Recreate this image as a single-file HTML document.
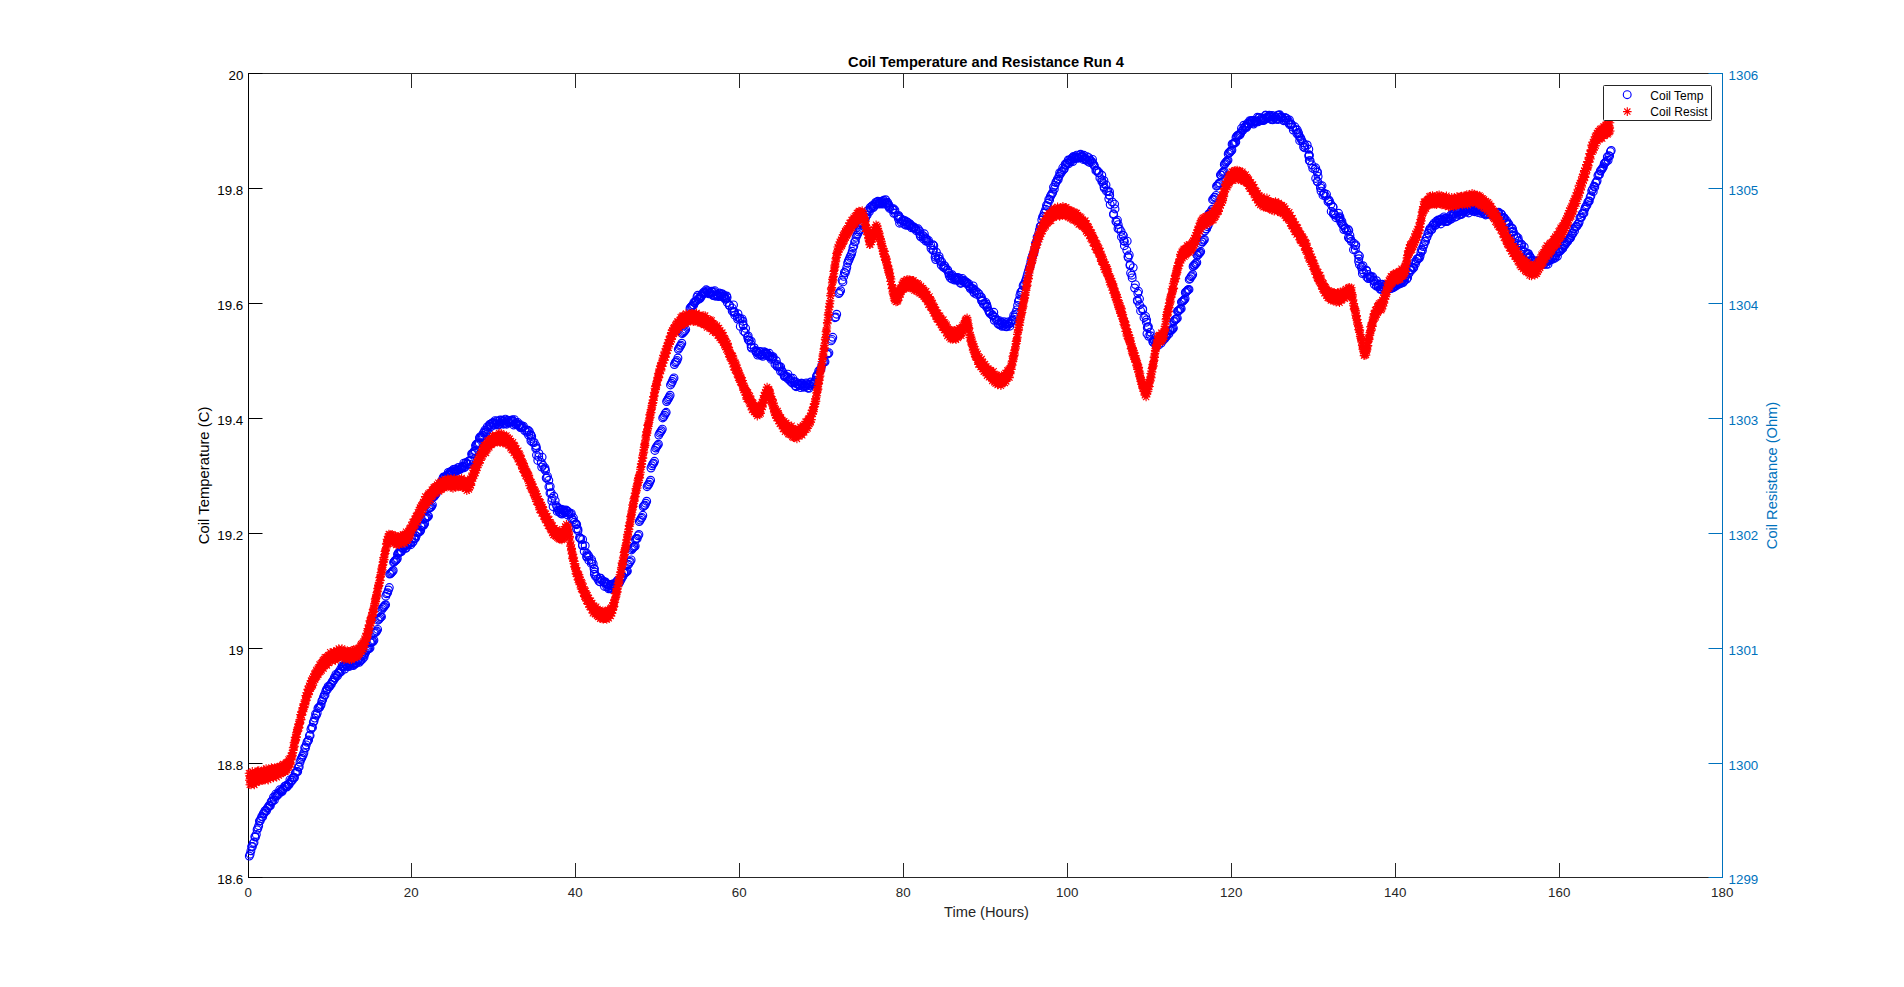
<!DOCTYPE html>
<html lang="en"><head><meta charset="utf-8"><title>Coil Temperature and Resistance Run 4</title>
<style>html,body{margin:0;padding:0;background:#fff;}body{width:1904px;height:987px;overflow:hidden;}svg{display:block;font-family:"Liberation Sans",sans-serif;}.t{font-size:13.33px;fill:#262626;}.tb{font-size:13.33px;fill:#0072BD;}.tk{font-size:13.33px;fill:#000;}.lk{font-size:14.67px;fill:#000;}.l{font-size:14.67px;fill:#262626;}.lb{font-size:14.67px;fill:#0072BD;}.ti{font-size:14.67px;font-weight:bold;fill:#000;}.lg{font-size:12px;fill:#000;}</style></head><body>
<svg width="1904" height="987" viewBox="0 0 1904 987">
<defs><marker id="mc" markerUnits="userSpaceOnUse" markerWidth="12" markerHeight="12" refX="6" refY="6" viewBox="0 0 12 12" overflow="visible"><circle cx="6" cy="6" r="3.9" fill="none" stroke="#0000ff" stroke-width="1.15"/></marker><marker id="ms" markerUnits="userSpaceOnUse" markerWidth="12" markerHeight="12" refX="6" refY="6" viewBox="0 0 12 12" overflow="visible"><path d="M1.7 6H10.3M6 1.7V10.3M2.9 2.9L9.1 9.1M9.1 2.9L2.9 9.1" fill="none" stroke="#ff0000" stroke-width="1.1"/></marker></defs>
<rect x="0" y="0" width="1904" height="987" fill="#ffffff"/>
<path d="M248 73.5H1723M248 877.5H1723M411.5 878V863M411.5 73V88M575.5 878V863M575.5 73V88M739.5 878V863M739.5 73V88M903.5 878V863M903.5 73V88M1067.5 878V863M1067.5 73V88M1231.5 878V863M1231.5 73V88M1395.5 878V863M1395.5 73V88M1559.5 878V863M1559.5 73V88" stroke="#262626" stroke-width="1" fill="none" shape-rendering="crispEdges"/>
<path d="M248.5 73V878M248 73.5H262.5M248 188.5H262.5M248 303.5H262.5M248 418.5H262.5M248 533.5H262.5M248 648.5H262.5M248 763.5H262.5M248 877.5H262.5" stroke="#000" stroke-width="1" fill="none"/>
<path d="M1722.5 73V878M1723 73.5H1708.5M1723 188.5H1708.5M1723 303.5H1708.5M1723 418.5H1708.5M1723 533.5H1708.5M1723 648.5H1708.5M1723 763.5H1708.5M1723 877.5H1708.5" stroke="#0072BD" stroke-width="1" fill="none"/>
<text class="t" x="248.2" y="897" text-anchor="middle">0</text>
<text class="t" x="411.2" y="897" text-anchor="middle">20</text>
<text class="t" x="575.2" y="897" text-anchor="middle">40</text>
<text class="t" x="739.2" y="897" text-anchor="middle">60</text>
<text class="t" x="903.2" y="897" text-anchor="middle">80</text>
<text class="t" x="1067.2" y="897" text-anchor="middle">100</text>
<text class="t" x="1231.2" y="897" text-anchor="middle">120</text>
<text class="t" x="1395.2" y="897" text-anchor="middle">140</text>
<text class="t" x="1559.2" y="897" text-anchor="middle">160</text>
<text class="t" x="1722.2" y="897" text-anchor="middle">180</text>
<text class="tk" x="243.3" y="80.0" text-anchor="end">20</text>
<text class="tb" x="1728.6" y="80.0">1306</text>
<text class="tk" x="243.3" y="195.0" text-anchor="end">19.8</text>
<text class="tb" x="1728.6" y="195.0">1305</text>
<text class="tk" x="243.3" y="310.0" text-anchor="end">19.6</text>
<text class="tb" x="1728.6" y="310.0">1304</text>
<text class="tk" x="243.3" y="425.0" text-anchor="end">19.4</text>
<text class="tb" x="1728.6" y="425.0">1303</text>
<text class="tk" x="243.3" y="540.0" text-anchor="end">19.2</text>
<text class="tb" x="1728.6" y="540.0">1302</text>
<text class="tk" x="243.3" y="655.0" text-anchor="end">19</text>
<text class="tb" x="1728.6" y="655.0">1301</text>
<text class="tk" x="243.3" y="770.0" text-anchor="end">18.8</text>
<text class="tb" x="1728.6" y="770.0">1300</text>
<text class="tk" x="243.3" y="884.0" text-anchor="end">18.6</text>
<text class="tb" x="1728.6" y="884.0">1299</text>
<text class="ti" x="986" y="67" text-anchor="middle">Coil Temperature and Resistance Run 4</text>
<text class="l" x="986.5" y="917" text-anchor="middle">Time (Hours)</text>
<text class="lk" style="font-size:14.85px" transform="translate(208.7 475.4) rotate(-90)" text-anchor="middle">Coil Temperature (C)</text>
<text class="lb" transform="translate(1777 475.5) rotate(-90)" text-anchor="middle">Coil Resistance (Ohm)</text>
<polyline fill="none" stroke="none" marker-start="url(#mc)" marker-mid="url(#mc)" marker-end="url(#mc)" points="249.3,856.1 250.1,854.2 250.9,850.8 251.6,846.6 252.4,846.5 253.2,843.4 254.0,842.4 254.8,836.7 255.5,837.1 256.3,834.4 257.1,829.7 257.9,828.1 258.7,825.7 259.4,821.1 260.2,820.8 261.0,818.6 261.8,816.5 262.6,816.9 263.3,813.6 264.1,813.3 264.9,811.0 265.7,810.4 266.5,810.8 267.2,808.3 268.0,807.6 268.8,805.9 269.6,805.5 270.4,805.6 271.1,802.0 271.9,801.0 272.7,801.1 273.5,797.2 274.3,800.2 275.0,796.6 275.8,794.1 276.6,796.0 277.4,795.0 278.2,793.4 278.9,793.9 279.7,789.8 280.5,791.2 281.3,791.1 282.1,791.6 282.8,789.7 283.6,788.6 284.4,786.6 285.2,786.4 286.0,785.6 286.7,787.0 287.5,786.1 288.3,784.3 289.1,784.5 289.9,779.9 290.6,782.2 291.4,780.4 292.2,780.4 293.0,777.7 293.8,777.6 294.5,777.5 295.3,773.1 296.1,772.2 296.9,771.4 297.7,771.5 298.4,767.1 299.2,766.8 300.0,762.3 300.8,759.6 301.6,758.2 302.3,756.5 303.1,754.9 303.9,752.7 304.7,747.7 305.5,748.1 306.2,744.9 307.0,742.2 307.8,741.0 308.6,740.1 309.4,735.6 310.1,735.6 310.9,729.3 311.7,727.3 312.5,727.4 313.3,722.3 314.0,721.0 314.8,718.1 315.6,713.9 316.4,715.1 317.2,713.1 317.9,708.4 318.7,707.5 319.5,707.5 320.3,706.1 321.1,704.5 321.8,701.2 322.6,699.8 323.4,697.3 324.2,695.2 325.0,694.9 325.7,691.3 326.5,689.5 327.3,689.5 328.1,686.4 328.9,686.8 329.6,686.5 330.4,684.6 331.2,684.4 332.0,682.2 332.8,680.9 333.5,680.4 334.3,677.7 335.1,678.0 335.9,674.4 336.7,675.3 337.4,675.9 338.2,673.4 339.0,671.7 339.8,672.6 340.6,669.2 341.3,671.3 342.1,666.0 342.9,667.0 343.5,666.1 344.2,666.1 344.8,669.1 345.5,664.2 346.1,665.0 346.8,665.2 347.4,666.2 348.1,666.5 348.7,664.5 349.4,663.0 350.0,666.2 350.7,661.9 351.3,661.8 352.0,662.2 352.6,663.4 353.3,665.6 353.9,664.6 354.6,663.2 355.2,662.4 355.9,663.7 356.5,662.7 357.2,661.1 357.8,659.4 358.5,659.8 359.3,662.3 360.1,660.3 360.8,660.5 361.6,655.2 362.4,659.2 363.2,655.8 364.0,657.2 364.7,654.3 365.5,652.5 366.3,650.8 367.0,649.8 367.8,649.4 368.5,648.6 369.2,648.6 370.0,647.9 370.2,642.4 370.9,642.7 371.7,641.9 372.4,641.1 373.1,641.5 373.9,640.2 374.1,633.4 375.0,632.7 375.9,631.9 376.7,631.0 377.6,629.4 378.0,620.2 378.9,619.3 379.8,618.2 380.6,617.0 381.5,616.7 381.9,609.4 382.6,607.9 383.4,607.3 384.1,606.5 384.8,605.4 385.6,604.7 385.8,596.2 386.7,593.8 387.6,592.7 388.4,590.0 389.3,587.6 389.7,574.0 390.6,573.6 391.5,572.6 392.3,571.5 393.2,570.5 393.6,562.4 394.3,561.7 395.1,560.5 395.8,560.4 396.5,559.6 397.3,558.6 397.5,554.4 398.2,553.1 399.0,552.5 399.7,552.4 400.4,551.7 401.2,551.2 401.4,551.6 402.0,547.4 402.7,547.8 403.3,548.6 404.0,546.3 404.6,545.3 405.3,548.3 406.1,548.0 406.9,545.3 407.6,544.8 408.4,542.6 409.2,543.7 410.0,543.4 410.8,544.7 411.5,538.7 412.3,542.6 413.1,541.7 413.9,538.4 414.7,538.7 415.4,538.2 416.2,536.0 417.0,532.6 417.7,532.6 418.5,532.2 419.2,531.2 419.9,531.7 420.7,530.3 420.9,526.6 421.6,526.5 422.4,525.9 423.1,525.3 423.8,525.1 424.6,523.7 424.8,518.8 425.5,518.2 426.3,517.5 427.0,517.5 427.7,516.3 428.5,516.1 428.7,508.7 429.4,507.9 430.2,507.5 430.9,507.2 431.6,506.2 432.4,504.8 432.6,497.7 433.3,496.5 434.1,496.7 434.8,495.2 435.5,494.3 436.3,493.5 436.5,488.0 437.2,487.4 438.0,487.2 438.7,486.1 439.4,485.9 440.2,485.1 440.4,484.2 441.2,482.9 442.0,481.2 442.7,478.7 443.5,477.0 444.3,477.2 445.1,478.8 445.9,476.6 446.6,476.1 447.4,474.7 448.2,472.5 448.8,475.3 449.5,474.0 450.1,472.3 450.8,471.5 451.4,473.3 452.1,471.1 452.7,472.4 453.4,469.5 454.0,472.4 454.7,469.3 455.3,469.6 456.0,471.4 456.6,471.0 457.3,470.1 457.9,467.6 458.6,469.7 459.2,467.4 459.9,469.3 460.5,469.1 461.2,468.1 461.8,467.9 462.5,466.2 463.1,467.1 463.8,463.1 464.4,467.7 465.1,466.7 465.7,462.6 466.4,462.8 467.0,464.0 467.7,464.4 468.5,461.2 469.3,464.1 470.0,460.2 470.8,461.0 471.6,454.0 472.3,454.1 473.1,453.3 473.8,451.9 474.5,450.8 475.3,450.8 475.5,445.6 476.2,444.5 477.0,443.8 477.7,443.8 478.4,443.2 479.2,442.7 479.4,438.0 480.1,436.8 480.9,437.5 481.6,436.7 482.3,435.9 483.1,435.2 483.3,433.1 484.1,432.3 484.9,430.2 485.6,432.5 486.4,431.8 487.2,426.9 488.0,429.6 488.8,426.1 489.5,424.6 490.3,424.2 491.1,426.5 491.7,423.4 492.4,423.1 493.0,422.5 493.7,423.1 494.3,425.0 495.0,420.6 495.6,423.4 496.3,423.9 496.9,420.9 497.6,421.6 498.2,425.0 498.9,424.6 499.5,424.1 500.2,420.0 500.8,423.3 501.5,421.7 502.1,420.2 502.8,421.2 503.4,424.2 504.1,423.4 504.7,420.6 505.4,419.1 506.0,423.3 506.7,424.2 507.3,421.8 508.0,420.2 508.6,422.2 509.3,422.8 509.9,421.8 510.6,420.8 511.2,420.8 511.9,420.9 512.5,419.8 513.2,421.1 513.8,425.1 514.5,419.6 515.1,423.6 515.8,424.5 516.4,422.8 517.1,424.0 517.7,422.4 518.4,425.2 519.0,425.5 519.7,425.8 520.3,424.6 520.4,427.6 521.4,427.6 522.4,426.7 522.4,427.8 523.4,426.2 524.6,430.5 526.4,430.0 526.9,432.3 528.0,430.2 528.6,435.2 529.3,431.5 530.6,435.0 530.8,434.6 531.7,436.4 530.9,440.8 531.1,438.4 534.2,442.5 532.7,442.3 536.5,447.8 535.9,445.6 535.7,448.4 538.9,453.5 536.5,455.1 538.7,456.9 537.8,460.4 542.1,457.1 541.3,462.5 543.0,465.3 541.7,467.1 544.6,469.0 545.0,467.9 545.5,470.5 547.5,476.4 546.2,478.0 546.9,477.9 548.8,480.3 550.2,486.5 548.9,486.8 551.1,492.7 550.0,493.1 552.1,498.3 553.8,496.2 551.8,501.0 555.2,500.6 553.1,506.6 557.6,507.3 556.5,505.8 557.2,511.4 558.3,510.1 558.7,508.4 559.3,511.8 560.0,509.7 560.6,513.3 561.3,509.3 561.9,514.0 562.6,509.6 563.2,513.0 563.9,510.8 564.5,511.6 565.2,512.5 565.8,510.0 566.5,511.1 567.1,510.8 567.8,515.0 568.4,511.9 569.0,513.7 570.4,513.8 571.3,513.4 571.6,518.5 573.4,517.8 572.9,520.0 574.3,522.3 575.8,524.2 576.1,523.7 576.7,524.7 576.5,528.8 577.9,529.1 578.0,530.8 580.2,537.8 579.5,537.7 580.7,539.0 582.6,539.5 582.4,544.7 582.5,545.8 585.2,545.7 584.2,551.3 586.9,553.3 587.4,554.7 586.8,556.3 588.7,556.0 586.7,557.0 588.9,560.4 591.6,559.6 591.3,563.4 592.0,561.6 593.2,563.9 594.0,568.7 594.4,568.8 594.5,572.0 594.4,574.2 595.6,576.4 596.5,576.2 597.8,579.0 600.0,578.2 599.1,581.4 600.2,581.9 600.8,578.3 602.0,580.4 603.6,582.0 604.1,582.4 604.0,581.6 604.5,586.4 605.5,582.0 606.1,583.8 606.8,586.7 607.4,584.3 608.1,584.4 608.7,588.8 609.4,588.0 610.0,586.0 610.7,584.6 611.3,584.9 612.0,589.3 612.6,588.4 613.3,583.8 613.9,587.5 614.6,584.3 615.2,585.7 615.9,583.0 616.7,581.6 617.5,580.3 618.2,580.9 619.0,583.1 619.8,582.0 620.6,580.0 621.4,579.1 622.1,575.9 622.9,576.4 623.7,572.9 624.4,573.2 625.2,572.8 625.9,572.3 626.6,571.4 627.4,571.1 627.6,564.8 628.5,564.4 629.4,562.4 630.2,561.6 631.1,559.9 631.5,549.9 632.2,548.7 633.0,547.8 633.7,546.7 634.4,546.7 635.2,546.0 635.4,539.3 636.3,538.6 637.2,538.5 638.0,535.8 638.9,534.5 639.3,521.5 640.2,520.1 641.1,518.3 641.9,517.4 642.8,515.3 643.2,506.6 644.1,505.7 645.0,505.1 645.8,503.2 646.7,501.2 647.1,486.7 648.0,485.0 648.9,484.1 649.7,482.0 650.6,480.2 651.0,468.0 651.9,465.8 652.8,463.9 653.6,463.2 654.5,461.3 654.9,450.4 655.8,448.0 656.7,446.7 657.5,445.4 658.4,444.2 658.8,435.1 659.7,433.2 660.6,431.9 661.4,430.7 662.3,429.1 662.7,417.9 663.6,416.8 664.5,415.2 665.3,413.3 666.2,412.3 666.6,401.5 667.5,400.0 668.4,398.5 669.2,397.0 670.1,395.2 670.5,384.9 671.4,383.2 672.3,381.5 673.1,379.3 674.0,377.9 674.4,364.5 675.3,362.5 676.2,361.7 677.0,360.4 677.9,358.0 678.3,349.3 679.2,347.9 680.1,346.2 680.9,345.1 681.8,343.2 682.2,333.6 683.1,332.7 684.0,331.7 684.8,330.7 685.7,329.4 686.1,321.7 687.0,320.4 687.9,320.3 688.7,318.8 689.6,317.8 690.0,308.2 690.7,307.5 691.5,306.4 692.2,306.0 692.9,304.9 693.7,305.1 693.9,302.3 694.7,302.7 695.5,301.1 696.2,300.9 697.0,297.0 697.8,295.2 698.4,298.9 699.1,299.2 699.7,297.2 700.4,298.0 701.0,296.4 701.7,295.8 702.3,294.2 703.0,292.8 703.6,293.6 704.3,291.8 704.9,292.8 705.6,292.7 706.2,289.8 706.9,291.7 707.5,290.7 708.2,293.1 708.8,293.9 709.5,293.3 710.1,293.2 710.8,293.2 711.4,291.2 712.1,292.0 712.7,295.2 713.4,295.5 714.0,291.8 714.7,290.6 715.3,296.2 716.0,295.3 716.6,294.4 717.3,295.7 717.9,294.9 718.6,296.6 719.2,293.0 719.9,294.6 720.5,295.8 721.2,293.6 721.8,296.5 722.5,294.0 723.1,296.6 723.8,297.5 724.4,295.5 725.1,299.1 725.2,297.8 726.0,299.2 726.7,296.0 727.1,297.5 727.3,302.5 729.6,305.3 729.4,305.5 732.2,308.1 733.5,304.9 732.2,311.0 733.9,311.8 734.5,311.8 733.9,312.5 734.8,315.2 738.0,313.7 737.5,317.1 739.4,318.2 737.6,319.1 740.3,318.8 742.1,318.9 742.9,321.2 740.3,326.4 743.1,324.5 743.3,325.5 745.6,328.4 743.7,331.2 745.2,332.6 748.2,336.0 747.6,337.3 748.3,339.7 751.2,341.2 749.3,340.5 749.0,340.4 751.2,346.9 751.0,344.5 751.5,348.1 754.2,347.7 756.1,352.2 755.7,350.5 756.3,351.5 756.9,351.5 757.6,355.1 758.2,353.5 758.9,353.7 759.5,351.9 760.2,351.4 760.8,355.3 761.5,354.6 762.1,354.8 762.8,356.3 763.4,353.8 764.1,351.7 764.7,354.0 765.4,352.4 766.0,353.3 766.7,353.5 767.3,354.1 768.0,355.8 768.6,356.2 769.3,353.3 770.0,355.9 769.8,357.0 772.0,356.6 773.1,356.6 771.4,359.4 772.6,358.7 773.1,358.2 776.3,360.7 777.3,364.4 775.0,364.2 776.8,365.8 777.3,366.6 778.8,366.1 780.7,367.0 779.5,367.1 780.5,371.3 782.0,370.9 782.9,372.3 784.1,375.5 784.3,374.7 784.5,376.5 785.7,376.4 787.6,378.5 787.9,374.1 787.6,376.8 789.6,380.3 789.5,378.9 791.1,381.9 790.6,378.1 792.8,378.3 792.4,383.1 793.7,381.6 794.8,382.9 795.3,385.8 795.5,381.7 796.1,386.7 797.2,384.2 797.9,383.7 798.5,384.2 799.2,385.2 799.8,385.6 800.5,387.6 801.1,383.3 801.8,383.3 802.4,384.0 803.1,386.1 803.7,387.2 804.4,385.2 805.0,385.8 805.7,386.5 806.3,382.9 807.0,383.7 807.6,387.9 808.3,384.5 808.9,388.3 809.6,385.6 810.2,384.1 810.9,382.0 811.7,383.6 812.5,384.2 813.2,384.0 814.0,382.9 814.8,381.7 815.6,380.3 816.4,376.5 817.1,375.0 817.9,375.5 818.7,370.9 819.5,371.3 820.3,369.3 821.0,369.1 821.8,365.3 823.2,362.3 824.1,361.7 825.0,361.8 827.1,354.2 828.0,353.9 828.9,352.8 831.0,340.9 831.9,339.4 832.8,337.3 834.9,317.7 835.8,317.0 836.7,314.2 838.8,293.5 839.7,292.4 840.6,290.7 842.1,280.2 842.9,281.9 843.7,276.4 844.4,272.4 845.2,272.9 846.0,270.6 846.8,267.4 847.6,263.1 848.3,261.1 849.1,259.5 849.9,257.4 850.7,255.6 851.5,254.1 852.2,251.3 853.0,247.4 853.8,245.9 854.6,241.9 855.4,241.4 856.1,237.3 856.9,235.2 857.7,233.8 858.5,231.9 859.3,230.0 860.0,229.9 860.8,225.3 861.6,223.8 862.4,224.3 863.2,222.4 863.9,220.9 864.7,219.4 865.5,217.9 866.3,215.2 867.1,215.2 867.8,210.8 868.6,210.0 869.4,211.6 870.2,207.5 871.0,208.7 871.7,206.5 872.5,205.5 873.3,207.5 874.1,206.3 874.9,204.0 875.6,202.5 876.4,204.4 877.2,202.6 877.8,201.2 878.5,203.8 879.1,202.8 879.8,203.9 880.4,202.3 881.1,203.8 881.7,201.3 882.4,202.7 883.0,204.1 883.7,200.3 884.3,201.8 885.0,203.2 885.6,199.7 886.3,203.7 886.9,203.1 887.6,205.4 887.6,202.3 888.3,204.2 889.2,207.0 889.1,205.4 889.6,208.4 893.5,208.6 892.6,208.9 892.7,210.0 894.9,210.1 893.8,213.3 895.2,212.9 898.0,217.1 898.5,219.1 898.6,215.5 898.0,216.4 899.4,216.8 899.6,223.2 900.7,218.6 901.2,222.3 902.1,220.8 903.2,219.9 903.8,221.1 904.5,224.3 905.1,220.7 905.8,225.2 906.4,224.2 907.1,221.9 907.7,222.5 908.4,225.4 909.0,225.5 909.7,223.6 910.3,224.5 911.0,225.7 911.6,227.8 912.3,226.5 913.4,227.8 913.8,227.0 914.3,227.8 914.1,227.8 916.2,229.4 915.5,228.7 916.3,230.7 918.1,228.8 919.2,230.6 919.9,233.8 920.0,231.6 920.2,235.7 920.7,236.8 923.2,235.7 924.3,233.8 923.4,238.9 925.6,238.6 925.3,237.7 925.9,241.0 927.1,240.4 926.6,239.1 928.5,240.4 928.6,242.4 930.8,245.3 931.0,248.3 932.9,244.7 933.8,245.7 932.8,250.4 933.4,250.1 936.4,252.2 935.7,255.6 935.1,257.2 935.7,259.5 939.7,259.3 939.1,256.4 938.2,258.1 940.4,261.5 941.2,265.1 941.7,261.8 944.2,265.4 945.0,266.4 943.1,266.8 944.0,267.6 945.6,268.5 947.4,270.3 947.7,269.9 948.6,273.1 949.1,273.1 949.2,275.8 951.1,275.7 950.5,278.2 952.3,274.8 952.2,279.1 953.2,276.7 954.5,278.7 954.6,280.1 955.2,277.8 955.8,278.4 956.5,280.0 957.1,277.4 957.8,279.7 958.4,277.7 959.1,278.4 959.7,281.1 960.4,283.2 961.0,283.2 961.7,279.9 962.3,278.4 963.0,281.0 963.6,281.3 964.3,280.5 964.9,282.4 965.6,283.2 966.2,282.4 966.9,282.4 967.4,283.3 968.9,283.9 968.9,285.9 970.3,287.3 972.0,288.4 970.3,288.6 973.2,285.9 973.3,288.7 973.6,291.9 974.3,290.3 974.4,293.2 975.6,290.8 977.4,292.4 976.8,294.4 979.0,294.0 980.6,297.4 981.4,297.2 982.0,301.2 982.5,299.8 981.6,300.5 984.5,304.5 983.3,303.8 985.8,302.4 986.7,304.3 986.7,307.3 987.2,306.3 987.1,307.2 988.8,310.6 989.0,311.3 989.3,312.0 990.1,313.6 992.6,314.8 993.8,312.3 992.4,315.3 992.8,315.8 994.3,320.3 994.8,317.2 995.8,319.4 997.5,320.3 998.0,323.7 998.7,324.3 999.4,320.6 1000.0,324.9 1000.7,324.2 1001.3,322.3 1002.0,326.3 1002.6,323.0 1003.3,325.8 1003.9,321.8 1004.6,324.2 1005.2,324.0 1005.9,326.6 1006.5,326.8 1007.2,325.2 1007.8,322.0 1008.5,324.0 1009.1,323.9 1009.8,326.2 1010.6,323.0 1011.4,321.1 1012.1,319.8 1012.9,320.2 1013.7,315.4 1014.5,317.1 1015.3,314.5 1016.0,312.1 1016.8,309.9 1017.6,305.5 1018.4,301.3 1019.2,299.7 1019.9,295.3 1020.7,292.3 1021.5,291.7 1022.3,290.4 1023.1,285.8 1023.8,284.5 1024.6,284.0 1025.4,281.2 1026.2,279.0 1027.0,276.1 1027.7,273.4 1028.5,270.6 1029.3,268.0 1030.1,265.5 1030.9,261.6 1031.6,258.5 1032.4,255.9 1033.2,254.2 1034.0,252.8 1034.8,248.4 1035.5,243.3 1036.3,243.0 1037.1,237.1 1037.9,237.3 1038.7,233.3 1039.4,229.8 1040.2,226.5 1041.0,226.0 1041.8,220.0 1042.6,216.9 1043.3,216.4 1044.1,213.3 1044.9,211.6 1045.7,209.3 1046.5,205.4 1047.2,206.4 1048.0,203.2 1048.8,199.3 1049.6,199.9 1050.4,196.4 1051.1,195.1 1051.9,193.8 1052.7,192.5 1053.5,187.1 1054.3,189.1 1055.0,185.1 1055.8,182.5 1056.6,181.3 1057.4,179.1 1058.2,179.6 1058.9,176.5 1059.7,172.6 1060.5,173.8 1061.3,172.1 1062.1,171.3 1062.8,167.8 1063.6,169.7 1064.4,168.6 1065.2,164.2 1066.0,165.0 1066.7,162.9 1067.5,163.1 1068.3,160.0 1068.9,163.7 1069.6,160.0 1070.2,161.9 1070.9,160.9 1071.5,158.9 1072.2,157.8 1072.8,161.5 1073.5,156.5 1074.1,157.9 1074.8,156.7 1075.4,158.7 1076.1,157.1 1076.7,155.1 1077.4,157.5 1078.0,158.0 1078.7,157.9 1079.3,156.9 1080.0,155.0 1080.6,154.2 1081.3,156.5 1081.9,157.5 1082.6,156.3 1083.2,159.4 1083.9,155.3 1084.5,158.9 1085.2,158.3 1085.8,159.3 1086.5,160.2 1087.1,156.8 1087.8,161.3 1088.8,157.6 1089.3,160.1 1089.5,162.4 1089.8,160.2 1091.0,160.9 1092.5,159.4 1092.8,163.1 1091.7,161.7 1093.8,164.6 1094.4,166.0 1095.9,170.7 1096.7,170.4 1099.0,172.4 1097.3,170.6 1098.4,172.9 1099.9,177.9 1101.8,175.2 1101.9,181.7 1101.7,179.8 1103.9,180.5 1103.3,183.5 1106.0,184.9 1104.1,186.8 1104.2,188.1 1107.8,191.1 1106.5,191.2 1109.5,191.7 1109.3,195.4 1109.7,195.2 1108.8,198.8 1112.3,202.0 1110.2,204.6 1114.6,204.1 1115.0,208.9 1113.5,213.8 1113.6,214.7 1117.4,220.1 1116.6,222.0 1115.9,221.4 1118.2,224.6 1118.0,228.5 1119.4,228.7 1121.1,231.4 1123.0,235.3 1123.3,235.6 1121.5,236.9 1123.6,240.7 1124.4,241.4 1127.2,241.1 1124.4,245.7 1126.8,250.3 1129.2,254.9 1128.0,256.4 1128.2,257.6 1130.1,264.6 1130.0,265.5 1133.2,267.6 1130.6,273.1 1131.9,275.2 1132.2,277.9 1135.4,284.6 1134.6,288.0 1137.8,293.3 1138.5,291.3 1139.5,298.8 1137.5,301.2 1137.3,300.1 1139.6,304.8 1142.7,308.8 1142.7,309.8 1140.6,310.9 1144.0,317.7 1145.6,316.4 1146.6,319.8 1146.4,322.2 1147.8,326.9 1148.4,326.7 1147.3,327.7 1147.0,333.7 1150.3,332.1 1148.7,336.3 1150.5,335.7 1153.5,339.9 1152.7,341.5 1153.4,342.6 1154.8,341.5 1154.4,340.4 1156.0,342.6 1156.0,344.7 1156.7,342.0 1157.3,340.2 1158.0,342.2 1158.6,345.2 1159.3,339.8 1159.9,340.1 1160.6,339.6 1161.2,343.0 1161.9,339.5 1162.7,340.5 1163.5,339.9 1164.2,337.7 1165.0,338.3 1165.8,336.4 1166.6,336.3 1167.4,334.3 1168.1,330.8 1168.9,333.8 1169.7,330.5 1170.4,330.3 1171.2,330.4 1171.9,329.7 1172.6,328.7 1173.4,328.1 1173.6,321.5 1174.3,320.9 1175.1,319.6 1175.8,319.3 1176.5,318.8 1177.3,318.2 1177.5,311.2 1178.2,311.1 1179.0,310.5 1179.7,309.3 1180.4,309.1 1181.2,308.7 1181.4,302.1 1182.1,301.6 1182.9,301.0 1183.6,300.4 1184.3,299.7 1185.1,298.6 1185.3,292.5 1186.0,292.1 1186.8,291.2 1187.5,290.3 1188.2,289.7 1189.0,289.4 1189.2,279.4 1190.1,278.6 1191.0,276.7 1191.8,275.8 1192.7,274.5 1193.1,266.5 1193.8,265.3 1194.6,265.3 1195.3,263.8 1196.0,263.6 1196.8,262.4 1197.0,255.2 1197.7,255.2 1198.5,254.3 1199.2,253.0 1199.9,252.5 1200.7,251.6 1200.9,243.7 1201.8,241.9 1202.7,241.8 1203.5,240.3 1204.4,239.5 1204.8,231.0 1205.7,228.9 1206.6,228.9 1207.4,226.7 1208.3,224.9 1208.7,213.9 1209.6,213.7 1210.5,212.3 1211.3,210.9 1212.2,209.2 1212.6,199.7 1213.5,199.2 1214.4,197.5 1215.2,197.1 1216.1,195.4 1216.5,186.2 1217.4,185.6 1218.3,184.3 1219.1,183.2 1220.0,182.9 1220.4,174.8 1221.1,175.0 1221.9,173.4 1222.6,172.3 1223.3,172.2 1224.1,171.3 1224.3,164.5 1225.0,163.5 1225.8,162.3 1226.5,161.7 1227.2,160.8 1228.0,160.1 1228.2,153.9 1228.9,152.6 1229.7,152.5 1230.4,151.2 1231.1,150.9 1231.9,150.1 1232.1,144.2 1232.8,143.7 1233.6,143.6 1234.3,143.3 1235.0,142.4 1235.8,142.1 1236.0,137.5 1236.7,136.4 1237.5,135.5 1238.2,135.1 1238.9,135.2 1239.7,133.9 1239.9,134.9 1240.7,133.2 1241.5,128.4 1242.2,130.6 1243.0,130.1 1243.8,125.2 1244.5,127.5 1245.1,126.3 1245.8,126.8 1246.4,127.6 1247.1,126.3 1247.7,123.2 1248.4,124.1 1249.0,124.0 1249.7,120.6 1250.3,121.1 1251.0,122.0 1251.6,120.6 1252.3,120.5 1252.9,123.0 1253.6,124.1 1254.2,120.5 1254.9,121.8 1255.5,121.8 1256.2,121.9 1256.8,120.9 1257.5,117.2 1258.1,121.8 1258.8,117.7 1259.4,117.7 1260.1,119.8 1260.7,119.6 1261.4,120.5 1262.0,117.9 1262.7,120.6 1263.3,119.6 1264.0,120.3 1264.6,118.2 1265.3,115.3 1265.9,115.3 1266.6,118.5 1267.2,116.9 1267.9,117.7 1268.5,116.5 1269.2,115.3 1269.8,117.0 1270.5,115.9 1271.1,119.4 1271.8,115.4 1272.4,119.8 1273.1,119.3 1273.7,115.9 1274.4,118.3 1275.0,117.1 1275.7,116.9 1276.3,119.2 1277.0,119.1 1277.6,115.3 1278.3,119.4 1278.9,115.2 1279.6,114.7 1280.2,117.5 1280.9,116.8 1281.5,116.9 1282.2,118.1 1282.8,118.1 1283.5,120.7 1284.1,120.4 1284.8,117.7 1285.4,117.8 1285.9,120.5 1286.6,118.4 1288.1,120.2 1288.6,123.1 1289.4,119.9 1290.8,124.3 1290.0,124.9 1291.4,124.6 1291.2,124.0 1292.7,127.1 1294.9,126.8 1293.3,130.1 1296.1,130.1 1297.2,129.8 1296.9,133.5 1298.6,133.6 1298.2,132.4 1298.7,135.6 1300.0,136.9 1299.7,140.7 1300.9,138.5 1301.6,140.3 1304.9,145.5 1303.2,142.8 1303.6,147.0 1307.2,145.0 1304.8,147.8 1308.8,149.2 1309.2,155.1 1309.1,154.8 1309.0,155.4 1308.9,156.4 1309.3,160.6 1310.1,160.7 1311.8,164.8 1312.8,168.4 1315.7,167.8 1314.9,169.2 1317.5,172.0 1317.2,172.3 1315.7,178.4 1318.1,176.4 1317.3,181.3 1317.6,181.9 1322.0,185.6 1320.4,187.8 1320.6,185.8 1321.0,191.1 1324.0,193.8 1324.0,193.2 1323.0,195.2 1326.5,194.3 1325.5,196.1 1328.3,199.9 1328.0,201.5 1329.0,200.1 1329.4,201.1 1331.0,204.3 1333.0,206.8 1333.0,207.2 1331.2,211.4 1333.5,212.7 1333.5,214.2 1333.9,214.0 1335.0,215.1 1335.9,217.7 1338.6,213.3 1338.8,217.7 1339.9,216.7 1340.3,220.3 1340.0,218.5 1341.0,222.4 1341.9,221.3 1342.2,224.4 1343.4,225.7 1345.3,228.0 1343.8,229.5 1345.2,228.5 1346.7,230.6 1348.2,229.5 1348.8,230.6 1349.9,235.3 1348.4,237.6 1349.4,238.7 1350.7,239.1 1351.3,241.3 1354.0,243.3 1355.8,244.9 1355.3,245.7 1353.5,249.7 1355.3,249.4 1358.1,254.8 1359.4,255.9 1358.8,258.7 1358.6,261.4 1359.4,264.5 1361.3,266.9 1363.0,265.7 1361.8,266.8 1362.1,269.7 1362.4,273.5 1363.7,272.5 1366.4,270.2 1366.6,271.0 1368.2,274.5 1366.9,277.2 1368.3,278.5 1370.0,276.5 1370.5,277.5 1370.1,278.6 1371.5,276.8 1372.7,276.8 1373.6,280.3 1374.0,281.4 1374.2,284.3 1376.6,280.7 1376.3,286.1 1377.6,283.7 1378.0,285.3 1378.1,286.8 1379.5,284.3 1380.3,289.3 1381.0,289.0 1381.6,288.9 1382.3,284.2 1382.9,287.0 1383.6,287.8 1384.2,289.3 1384.9,285.4 1385.5,285.2 1386.2,288.8 1386.8,285.9 1387.5,284.7 1388.1,284.5 1388.8,287.7 1389.4,287.0 1390.1,288.4 1390.7,288.6 1391.4,283.6 1392.0,288.0 1392.7,287.4 1393.3,287.6 1394.0,286.8 1394.6,284.2 1395.3,283.0 1395.9,286.1 1396.6,283.7 1397.2,283.6 1397.9,284.3 1398.5,284.0 1399.2,284.1 1399.8,282.9 1400.5,282.5 1401.1,283.4 1401.8,280.6 1402.4,279.7 1403.1,282.5 1403.7,281.4 1404.5,280.3 1405.3,276.5 1406.0,275.5 1406.8,279.1 1407.6,277.7 1408.4,273.9 1409.2,272.9 1409.9,270.2 1410.7,269.7 1411.5,270.2 1412.3,267.2 1413.1,268.0 1413.8,267.5 1414.6,262.3 1415.4,263.9 1416.2,261.4 1417.0,258.9 1417.7,259.1 1418.5,258.2 1419.3,258.2 1420.1,256.1 1420.9,252.5 1421.6,249.5 1422.4,250.5 1423.2,246.6 1424.0,244.6 1424.8,241.4 1425.5,241.4 1426.3,238.1 1427.1,236.8 1427.9,233.2 1428.7,233.3 1429.4,229.7 1430.2,228.1 1431.0,229.4 1431.8,229.5 1432.6,225.4 1433.3,224.7 1434.1,223.1 1434.9,225.4 1435.6,225.0 1436.2,221.3 1436.9,223.2 1437.5,222.3 1438.2,220.0 1438.8,221.9 1439.5,220.1 1440.1,219.7 1440.8,223.9 1441.4,218.8 1442.1,219.6 1442.7,221.0 1443.4,220.3 1444.0,216.9 1444.7,221.7 1445.3,218.3 1446.0,218.8 1446.6,221.4 1447.3,221.3 1447.9,220.9 1448.6,218.0 1449.2,219.0 1449.9,219.4 1450.5,215.4 1451.2,219.1 1451.8,214.1 1452.5,216.4 1453.1,214.3 1453.8,214.1 1454.4,213.3 1455.1,217.2 1455.7,211.8 1456.4,216.4 1457.0,211.5 1457.7,212.3 1458.3,212.0 1459.0,215.2 1459.6,210.7 1460.3,214.5 1460.9,211.2 1461.6,214.3 1462.2,213.4 1462.9,210.4 1463.5,212.0 1464.2,210.0 1464.8,210.4 1465.5,208.5 1466.1,211.9 1466.8,211.1 1467.4,209.2 1468.1,208.1 1468.7,212.9 1469.4,208.0 1470.0,209.4 1470.7,208.0 1471.3,209.4 1472.0,209.6 1472.6,211.1 1473.3,209.9 1473.9,208.6 1474.6,211.7 1475.2,209.5 1475.9,209.4 1476.5,210.7 1477.2,209.5 1477.8,212.4 1478.5,208.1 1479.1,209.6 1479.8,210.5 1480.4,210.4 1481.1,213.3 1481.7,210.3 1482.4,211.4 1483.0,211.8 1483.7,213.6 1484.3,210.3 1485.0,213.9 1485.6,214.9 1486.3,210.9 1486.9,210.6 1487.6,213.8 1488.2,211.2 1488.9,210.7 1489.5,210.3 1490.2,213.1 1490.8,214.9 1491.5,215.1 1492.1,213.5 1492.8,212.9 1493.4,215.2 1494.1,214.3 1494.7,215.7 1495.4,214.4 1496.0,214.6 1496.7,215.5 1497.3,212.5 1498.0,213.0 1498.6,212.2 1499.3,217.5 1499.9,218.0 1500.6,216.9 1500.9,214.0 1501.6,214.3 1502.3,217.2 1504.2,217.8 1503.4,217.6 1504.3,218.2 1506.0,222.6 1506.1,223.8 1506.7,220.8 1507.9,222.9 1509.0,224.5 1510.3,227.1 1512.0,228.2 1512.5,228.8 1511.9,232.2 1512.7,231.4 1513.4,231.9 1513.6,235.3 1516.8,237.2 1514.6,238.4 1515.8,235.9 1518.1,237.9 1518.7,240.8 1518.4,245.2 1521.4,244.1 1520.4,245.4 1521.8,244.8 1521.0,250.3 1524.2,247.0 1522.7,249.9 1524.3,252.0 1526.4,253.7 1527.3,254.1 1528.0,253.6 1528.5,253.7 1527.9,258.3 1528.3,256.9 1530.0,256.8 1530.1,256.7 1532.4,261.0 1531.6,261.0 1532.8,260.2 1533.2,260.2 1533.7,261.5 1535.0,263.8 1535.7,261.7 1536.3,264.2 1537.0,264.7 1537.6,263.9 1538.3,262.4 1538.9,260.5 1539.6,263.3 1540.2,264.4 1540.9,264.7 1541.5,260.9 1542.2,260.2 1542.8,262.9 1543.5,264.6 1544.1,260.1 1544.8,263.2 1545.4,261.0 1546.1,264.4 1546.7,261.8 1547.4,259.7 1548.0,264.2 1548.7,260.5 1549.3,260.7 1550.0,259.3 1550.6,259.9 1551.3,258.1 1551.9,257.7 1552.7,259.2 1553.5,256.2 1554.2,257.7 1555.0,258.2 1555.8,255.8 1556.6,252.5 1557.4,256.3 1558.1,251.7 1558.9,251.7 1559.7,251.1 1560.5,250.7 1561.3,248.9 1562.0,248.3 1562.8,248.4 1563.6,246.0 1564.4,245.1 1565.2,244.5 1565.9,243.0 1566.7,241.2 1567.5,241.7 1568.3,240.0 1569.1,238.7 1569.8,238.4 1570.6,237.8 1571.4,235.5 1572.2,233.4 1573.0,233.3 1573.7,229.0 1574.5,230.9 1575.3,227.3 1576.1,226.5 1576.9,226.2 1577.6,224.4 1578.4,223.9 1579.2,222.1 1580.0,217.7 1580.8,217.6 1581.5,217.1 1582.3,213.6 1583.1,213.2 1583.9,213.2 1584.7,209.2 1585.4,207.1 1586.2,206.2 1587.0,204.9 1587.8,202.1 1588.6,201.3 1589.3,201.0 1590.1,197.4 1590.9,195.7 1591.7,190.8 1592.5,189.4 1593.2,191.7 1594.0,186.2 1594.8,187.0 1595.6,182.8 1596.4,182.2 1597.1,180.7 1597.9,175.6 1598.7,174.4 1599.5,174.5 1600.3,171.0 1601.0,170.6 1601.8,169.2 1602.6,168.0 1603.4,166.8 1604.2,163.7 1604.9,163.0 1605.7,162.1 1606.5,161.1 1607.3,157.0 1608.1,160.3 1608.8,155.6 1609.6,156.1 1610.4,151.6 1611.2,150.5"/>
<polyline fill="none" stroke="none" marker-start="url(#ms)" marker-mid="url(#ms)" marker-end="url(#ms)" points="249.0,773.2 249.3,780.2 249.5,775.9 249.8,784.8 250.0,778.8 250.3,773.0 250.5,781.2 250.8,776.4 251.0,785.0 251.3,781.8 251.5,774.2 251.8,782.7 252.0,777.2 252.3,771.4 252.5,779.8 252.8,774.8 253.0,783.7 253.3,777.9 253.5,773.3 253.8,780.9 254.0,775.8 254.3,784.9 254.5,779.1 254.8,773.3 255.1,781.5 255.3,776.9 255.6,772.8 255.8,779.3 256.1,774.4 256.3,782.8 256.6,776.8 256.8,772.4 257.1,780.7 257.3,775.7 257.6,770.7 257.8,778.5 258.1,771.7 258.3,781.4 258.6,775.6 258.8,770.6 259.1,779.0 259.3,774.7 259.6,781.2 259.8,776.3 260.1,772.5 260.3,779.6 260.6,776.0 260.9,771.2 261.1,777.9 261.4,774.0 261.6,780.2 261.9,775.4 262.1,772.0 262.4,778.8 262.6,774.1 262.9,780.5 263.1,776.9 263.4,771.0 263.6,779.6 263.9,775.3 264.1,769.8 264.4,777.5 264.6,772.7 264.9,780.3 265.1,774.5 265.4,771.0 265.6,778.5 265.9,774.7 266.1,768.6 266.4,776.1 266.6,772.5 266.9,778.4 267.2,775.6 267.4,769.9 267.7,777.2 267.9,772.3 268.2,780.1 268.4,775.2 268.7,771.0 268.9,776.5 269.2,774.5 269.4,770.0 269.7,776.3 269.9,772.5 270.2,778.3 270.4,773.7 270.7,769.6 270.9,775.8 271.2,773.2 271.4,767.6 271.7,774.2 271.9,770.5 272.2,776.9 272.4,773.2 272.7,768.2 273.0,774.0 273.2,771.2 273.5,778.0 273.7,773.8 274.0,769.6 274.2,775.3 274.5,771.8 274.7,767.6 275.0,774.3 275.2,769.5 275.5,776.0 275.7,772.0 276.0,768.6 276.2,774.3 276.5,771.9 276.7,777.2 277.0,773.4 277.2,767.4 277.5,774.4 277.7,770.4 278.0,767.2 278.2,771.5 278.5,769.7 278.8,775.5 279.0,770.3 279.3,766.7 279.5,772.7 279.8,769.3 280.0,765.9 280.3,772.6 280.5,767.4 280.8,773.9 281.0,769.7 281.3,766.8 281.5,772.1 281.8,768.6 282.0,773.0 282.3,769.7 282.5,765.6 282.8,772.8 283.0,768.5 283.3,764.1 283.5,769.8 283.8,766.6 284.0,771.6 284.3,767.7 284.6,764.7 284.8,771.7 285.1,766.2 285.3,771.8 285.6,767.6 285.8,763.7 286.1,770.5 286.3,766.8 286.6,762.5 286.8,768.3 287.1,764.3 287.3,770.0 287.6,765.1 287.8,761.8 288.1,767.8 288.3,763.3 288.6,759.5 288.8,764.7 289.1,761.0 289.3,766.8 289.6,762.0 289.8,758.2 290.1,763.6 290.4,759.5 290.6,764.7 290.9,758.5 291.1,756.3 291.4,759.9 291.6,756.3 291.9,753.0 292.1,756.7 292.4,753.0 292.6,755.3 292.9,752.5 293.1,747.7 293.4,750.4 293.6,747.3 293.9,742.8 294.1,747.0 294.4,742.7 294.6,746.3 294.9,741.3 295.1,737.4 295.4,740.9 295.6,737.6 295.9,740.0 296.2,736.9 296.4,732.9 296.7,737.1 296.9,732.1 297.2,729.4 297.4,731.6 297.7,727.7 297.9,731.2 298.2,727.2 298.4,724.3 298.7,728.2 298.9,723.9 299.2,727.6 299.4,724.5 299.7,719.9 299.9,723.4 300.2,719.4 300.4,714.8 300.7,719.8 300.9,714.5 301.2,719.6 301.4,715.4 301.7,712.3 301.9,715.3 302.2,711.1 302.5,708.0 302.7,711.3 303.0,707.7 303.2,711.7 303.5,707.8 303.7,703.9 304.0,707.4 304.2,704.0 304.5,706.7 304.7,704.1 305.0,699.7 305.2,705.0 305.5,701.3 305.7,695.5 306.0,700.7 306.2,696.7 306.5,700.2 306.7,697.3 307.0,692.9 307.2,696.2 307.5,693.3 307.7,689.4 308.0,693.9 308.3,689.2 308.5,694.6 308.8,690.8 309.0,685.7 309.3,690.6 309.5,687.0 309.8,691.3 310.0,688.8 310.3,683.9 310.5,688.0 310.8,684.1 311.0,680.6 311.3,686.9 311.5,681.5 311.8,686.6 312.0,682.9 312.3,678.6 312.5,685.0 312.8,679.3 313.0,685.2 313.3,680.8 313.5,677.1 313.8,681.2 314.1,679.0 314.3,673.8 314.6,679.1 314.8,674.5 315.1,679.8 315.3,676.6 315.6,672.9 315.8,678.0 316.1,674.3 316.3,670.0 316.6,674.9 316.8,671.4 317.1,676.5 317.3,672.2 317.6,668.7 317.8,674.4 318.1,669.8 318.3,674.8 318.6,671.5 318.8,668.2 319.1,672.4 319.3,668.5 319.6,664.5 319.9,670.8 320.1,665.0 320.4,671.8 320.6,668.4 320.9,663.2 321.1,670.1 321.4,665.6 321.6,670.5 321.9,667.0 322.1,662.1 322.4,668.2 322.6,665.8 322.9,660.3 323.1,667.4 323.4,662.4 323.6,668.5 323.9,664.1 324.1,658.9 324.4,665.4 324.6,662.0 324.9,657.3 325.1,662.8 325.4,659.9 325.7,664.9 325.9,660.4 326.2,657.2 326.4,663.7 326.7,659.0 326.9,665.4 327.2,662.0 327.4,657.2 327.7,662.1 327.9,658.2 328.2,655.2 328.4,661.3 328.7,657.1 328.9,662.9 329.2,658.5 329.4,655.2 329.7,660.3 329.9,656.6 330.2,652.3 330.4,657.7 330.7,654.6 330.9,659.9 331.2,656.2 331.4,653.5 331.7,658.6 332.0,656.7 332.2,661.2 332.5,656.5 332.7,653.7 333.0,659.1 333.2,654.8 333.5,652.1 333.7,656.7 334.0,651.6 334.2,659.6 334.5,655.1 334.7,652.6 335.0,657.0 335.2,653.0 335.5,660.4 335.7,655.1 336.0,652.1 336.2,658.6 336.5,654.1 336.7,650.3 337.0,656.1 337.2,652.9 337.5,657.6 337.8,654.8 338.0,651.1 338.3,657.9 338.5,652.6 338.8,648.6 339.0,655.4 339.3,651.0 339.5,657.2 339.8,653.5 340.0,650.5 340.3,655.2 340.5,651.9 340.8,656.2 341.0,653.6 341.3,651.5 341.5,656.0 341.8,652.4 342.0,648.5 342.3,655.5 342.5,651.7 342.8,656.7 343.0,654.3 343.3,650.5 343.6,656.7 343.8,652.3 344.1,659.6 344.3,655.3 344.6,651.4 344.8,657.1 345.1,653.7 345.3,650.9 345.6,656.1 345.8,653.4 346.1,658.9 346.3,655.9 346.6,652.0 346.8,657.4 347.1,652.7 347.3,650.5 347.6,656.7 347.8,652.8 348.1,658.9 348.3,654.7 348.6,651.2 348.8,656.7 349.1,654.5 349.4,659.6 349.6,655.6 349.9,651.5 350.1,658.0 350.4,655.4 350.6,651.2 350.9,656.2 351.1,653.9 351.4,659.7 351.6,655.8 351.9,652.0 352.1,658.0 352.4,654.0 352.6,650.4 352.9,655.2 353.1,653.0 353.4,657.9 353.6,655.3 353.9,649.2 354.1,656.6 354.4,653.1 354.6,658.0 354.9,654.8 355.2,651.3 355.4,656.9 355.7,652.5 355.9,649.0 356.2,655.4 356.4,651.9 356.7,656.8 356.9,653.1 357.2,649.5 357.4,655.7 357.7,650.7 357.9,656.2 358.2,653.3 358.4,648.8 358.7,654.7 358.9,651.3 359.2,647.7 359.4,652.3 359.7,649.6 359.9,653.5 360.2,651.0 360.4,645.8 360.7,651.4 360.9,648.7 361.2,644.1 361.5,649.2 361.7,645.5 362.0,651.3 362.2,647.0 362.5,643.1 362.7,649.0 363.0,643.9 363.2,649.3 363.5,645.3 363.7,642.3 364.0,647.3 364.2,643.5 364.5,638.7 364.7,643.7 365.0,640.4 365.2,644.4 365.5,641.1 365.7,637.2 366.0,640.7 366.2,637.2 366.5,633.4 366.7,638.5 367.0,635.2 367.3,637.4 367.5,633.7 367.8,628.6 368.0,633.6 368.3,629.8 368.5,632.5 368.8,629.9 369.0,624.8 369.3,629.0 369.5,625.5 369.8,620.9 370.0,625.5 370.3,621.9 370.5,623.8 370.8,620.1 371.0,617.6 371.3,620.6 371.5,616.2 371.8,620.0 372.0,616.4 372.3,612.7 372.5,616.4 372.8,612.4 373.1,609.6 373.3,612.4 373.6,608.3 373.8,611.5 374.1,608.0 374.3,604.0 374.6,605.7 374.8,603.3 375.1,599.2 375.3,603.0 375.6,598.4 375.8,601.4 376.1,597.7 376.3,594.9 376.6,596.7 376.8,592.8 377.1,595.9 377.3,591.8 377.6,588.5 377.8,591.2 378.1,587.7 378.3,585.1 378.6,586.4 378.9,583.0 379.1,585.6 379.4,582.5 379.6,577.7 379.9,580.7 380.1,577.4 380.4,580.4 380.6,576.4 380.9,572.5 381.1,574.8 381.4,572.0 381.6,568.9 381.9,570.8 382.1,567.1 382.4,569.8 382.6,565.4 382.9,562.1 383.1,564.7 383.4,561.4 383.6,557.6 383.9,559.4 384.1,557.2 384.4,559.7 384.7,554.8 384.9,551.5 385.2,553.5 385.4,550.1 385.7,550.8 385.9,549.0 386.2,544.1 386.4,547.7 386.7,543.4 386.9,539.3 387.2,543.3 387.4,539.9 387.7,543.9 387.9,540.2 388.2,536.2 388.4,540.6 388.7,538.5 388.9,534.1 389.2,539.2 389.4,536.0 389.7,540.4 389.9,537.3 390.2,534.8 390.5,540.2 390.7,534.7 391.0,539.9 391.2,537.8 391.5,535.5 391.7,540.5 392.0,537.2 392.2,534.2 392.5,539.2 392.7,536.5 393.0,542.7 393.2,539.1 393.5,535.6 393.7,541.0 394.0,538.2 394.2,543.6 394.5,541.2 394.7,538.5 395.0,542.5 395.2,538.2 395.5,535.7 395.7,542.2 396.0,539.1 396.2,545.0 396.5,540.4 396.8,536.8 397.0,543.9 397.3,538.9 397.5,536.7 397.8,541.7 398.0,538.7 398.3,544.4 398.5,540.9 398.8,537.3 399.0,542.0 399.3,539.1 399.5,544.7 399.8,541.2 400.0,538.1 400.3,543.0 400.5,539.0 400.8,535.4 401.0,541.4 401.3,538.3 401.5,543.1 401.8,540.6 402.0,536.4 402.3,541.8 402.6,537.4 402.8,534.7 403.1,540.7 403.3,535.5 403.6,542.9 403.8,539.5 404.1,535.0 404.3,540.8 404.6,538.2 404.8,543.2 405.1,538.2 405.3,535.0 405.6,540.6 405.8,536.9 406.1,531.8 406.3,539.2 406.6,534.6 406.8,540.6 407.1,536.6 407.3,533.3 407.6,538.0 407.8,533.8 408.1,540.0 408.4,536.5 408.6,531.6 408.9,537.9 409.1,533.2 409.4,528.8 409.6,535.2 409.9,529.8 410.1,536.1 410.4,531.2 410.6,527.8 410.9,531.9 411.1,528.1 411.4,525.3 411.6,529.8 411.9,525.7 412.1,530.5 412.4,527.1 412.6,522.0 412.9,527.3 413.1,523.9 413.4,528.6 413.6,524.7 413.9,521.2 414.2,526.3 414.4,522.3 414.7,519.4 414.9,524.2 415.2,520.4 415.4,524.7 415.7,520.4 415.9,515.9 416.2,521.6 416.4,516.6 416.7,522.5 416.9,519.4 417.2,515.9 417.4,520.5 417.7,515.5 417.9,512.3 418.2,516.6 418.4,513.5 418.7,518.0 418.9,514.6 419.2,511.7 419.4,515.8 419.7,512.6 420.0,507.4 420.2,512.2 420.5,509.2 420.7,514.6 421.0,509.2 421.2,505.6 421.5,509.9 421.7,506.7 422.0,512.6 422.2,508.1 422.5,503.9 422.7,508.6 423.0,505.8 423.2,502.1 423.5,507.2 423.7,503.1 424.0,507.5 424.2,505.4 424.5,500.3 424.7,505.6 425.0,502.2 425.2,496.5 425.5,503.1 425.7,499.2 426.0,504.8 426.3,501.5 426.5,497.0 426.8,501.0 427.0,498.0 427.3,503.7 427.5,499.8 427.8,495.0 428.0,500.2 428.3,497.6 428.5,493.6 428.8,498.8 429.0,493.9 429.3,501.4 429.5,494.7 429.8,492.4 430.0,499.3 430.3,494.1 430.5,499.8 430.8,495.1 431.0,492.7 431.3,496.6 431.5,493.6 431.8,489.7 432.1,494.4 432.3,491.7 432.6,495.8 432.8,492.4 433.1,488.9 433.3,494.2 433.6,490.8 433.8,487.2 434.1,492.0 434.3,488.0 434.6,493.5 434.8,489.8 435.1,486.6 435.3,491.5 435.6,488.1 435.8,493.3 436.1,489.1 436.3,486.3 436.6,490.7 436.8,487.5 437.1,484.6 437.3,488.7 437.6,485.6 437.9,490.3 438.1,487.2 438.4,482.8 438.6,489.2 438.9,485.3 439.1,491.4 439.4,488.6 439.6,484.1 439.9,490.0 440.1,485.8 440.4,482.0 440.6,487.3 440.9,483.0 441.1,489.8 441.4,487.0 441.6,482.6 441.9,487.7 442.1,485.3 442.4,480.3 442.6,485.9 442.9,481.8 443.1,487.7 443.4,484.4 443.7,482.0 443.9,486.4 444.2,482.2 444.4,488.2 444.7,484.7 444.9,480.2 445.2,487.0 445.4,483.7 445.7,479.8 445.9,485.7 446.2,480.9 446.4,486.4 446.7,484.5 446.9,480.7 447.2,484.9 447.4,482.3 447.7,478.6 447.9,484.7 448.2,480.8 448.4,486.2 448.7,483.0 448.9,479.4 449.2,485.0 449.5,480.4 449.7,485.5 450.0,483.2 450.2,479.1 450.5,486.1 450.7,482.7 451.0,478.9 451.2,484.3 451.5,481.0 451.7,487.5 452.0,482.7 452.2,480.1 452.5,485.8 452.7,481.9 453.0,488.5 453.2,483.6 453.5,481.0 453.7,485.7 454.0,482.2 454.2,478.4 454.5,485.1 454.7,480.7 455.0,487.1 455.2,482.8 455.5,480.5 455.8,486.8 456.0,482.3 456.3,479.5 456.5,484.7 456.8,482.0 457.0,486.6 457.3,482.0 457.5,480.3 457.8,485.1 458.0,481.0 458.3,487.0 458.5,482.8 458.8,480.1 459.0,485.4 459.3,483.3 459.5,479.2 459.8,483.7 460.0,480.2 460.3,486.5 460.5,482.1 460.8,479.6 461.0,485.5 461.3,481.5 461.6,478.1 461.8,484.7 462.1,481.7 462.3,487.6 462.6,483.3 462.8,480.3 463.1,485.2 463.3,482.5 463.6,487.6 463.8,485.1 464.1,480.5 464.3,486.6 464.6,483.7 464.8,480.6 465.1,485.3 465.3,482.4 465.6,488.7 465.8,485.3 466.1,481.2 466.3,487.6 466.6,483.9 466.8,490.8 467.1,486.8 467.4,482.2 467.6,487.5 467.9,485.4 468.1,482.5 468.4,487.7 468.6,484.5 468.9,489.4 469.1,485.1 469.4,482.6 469.6,487.5 469.9,483.9 470.1,478.7 470.4,484.5 470.6,480.1 470.9,485.4 471.1,480.6 471.4,476.8 471.6,480.8 471.9,478.1 472.1,481.3 472.4,477.0 472.6,473.0 472.9,477.0 473.2,474.7 473.4,468.8 473.7,473.8 473.9,470.7 474.2,475.9 474.4,471.1 474.7,467.7 474.9,472.5 475.2,468.6 475.4,472.8 475.7,469.8 475.9,465.0 476.2,470.6 476.4,465.0 476.7,462.3 476.9,465.7 477.2,461.6 477.4,467.6 477.7,462.9 477.9,459.7 478.2,463.6 478.4,461.2 478.7,456.3 479.0,460.5 479.2,457.3 479.5,462.7 479.7,457.7 480.0,454.5 480.2,460.4 480.5,455.7 480.7,460.3 481.0,456.0 481.2,452.7 481.5,456.6 481.7,451.7 482.0,449.2 482.2,454.2 482.5,451.9 482.7,456.2 483.0,451.6 483.2,447.6 483.5,453.9 483.7,449.1 484.0,445.3 484.2,450.9 484.5,447.1 484.8,452.4 485.0,448.5 485.3,445.3 485.5,450.9 485.8,444.9 486.0,452.9 486.3,447.5 486.5,444.2 486.8,448.5 487.0,445.2 487.3,441.2 487.5,446.6 487.8,443.2 488.0,448.5 488.3,443.7 488.5,440.3 488.8,446.4 489.0,442.5 489.3,447.4 489.5,443.7 489.8,439.9 490.0,444.9 490.3,441.0 490.5,439.0 490.8,443.4 491.1,439.9 491.3,445.1 491.6,442.5 491.8,439.0 492.1,443.5 492.3,440.1 492.6,435.6 492.8,442.7 493.1,438.5 493.3,443.1 493.6,440.6 493.8,436.3 494.1,442.0 494.3,438.2 494.6,443.2 494.8,439.6 495.1,436.5 495.3,441.8 495.6,437.6 495.8,435.7 496.1,440.0 496.3,436.1 496.6,441.7 496.9,438.9 497.1,435.4 497.4,440.7 497.6,437.5 497.9,441.8 498.1,438.9 498.4,435.2 498.6,441.3 498.9,438.0 499.1,432.9 499.4,441.8 499.6,435.8 499.9,442.4 500.1,439.1 500.4,435.6 500.6,441.1 500.9,435.6 501.1,433.2 501.4,440.2 501.6,435.7 501.9,441.5 502.1,437.2 502.4,435.8 502.7,441.3 502.9,436.9 503.2,443.3 503.4,439.8 503.7,435.7 503.9,442.1 504.2,438.9 504.4,435.6 504.7,442.0 504.9,437.8 505.2,443.4 505.4,440.5 505.7,436.4 505.9,441.9 506.2,439.9 506.4,435.5 506.7,441.8 506.9,438.6 507.2,443.5 507.4,441.1 507.7,437.6 507.9,443.2 508.2,440.1 508.5,445.4 508.7,441.2 509.0,439.0 509.2,444.7 509.5,442.4 509.7,438.7 510.0,444.3 510.2,441.4 510.5,448.3 510.7,444.9 511.0,441.1 511.2,447.3 511.5,443.6 511.7,449.8 512.0,447.0 512.2,443.4 512.5,449.7 512.7,445.7 513.0,442.2 513.2,448.3 513.5,445.8 513.7,453.0 514.0,449.7 514.3,445.3 514.5,451.0 514.8,449.3 515.0,445.9 515.3,450.9 515.5,449.2 515.8,454.8 516.0,452.4 516.3,448.7 516.5,455.2 516.8,451.7 517.0,457.1 517.3,454.5 517.5,451.2 517.8,458.2 518.0,454.1 518.3,450.8 518.5,458.3 518.8,455.6 519.0,461.9 519.3,458.7 519.5,454.3 519.8,460.9 520.0,458.0 520.3,455.4 520.6,460.3 520.8,458.7 521.1,464.9 521.3,461.3 521.6,459.1 521.8,465.8 522.1,462.2 522.3,468.9 522.6,466.0 522.8,462.8 523.1,468.9 523.3,465.5 523.6,463.6 523.8,468.7 524.1,465.7 524.3,472.6 524.6,468.9 524.8,466.7 525.1,473.2 525.3,469.8 525.6,475.9 525.8,473.6 526.1,470.7 526.4,475.3 526.6,472.7 526.9,471.5 527.1,477.0 527.4,472.7 527.6,479.2 527.9,477.3 528.1,473.9 528.4,480.9 528.6,477.9 528.9,475.4 529.1,480.4 529.4,478.7 529.6,485.6 529.9,481.2 530.1,479.7 530.4,485.5 530.6,482.6 530.9,488.2 531.1,484.8 531.4,482.1 531.6,489.2 531.9,486.5 532.2,483.9 532.4,489.8 532.7,487.0 532.9,492.2 533.2,489.0 533.4,487.1 533.7,493.3 533.9,490.3 534.2,495.4 534.4,493.2 534.7,489.9 534.9,496.9 535.2,493.4 535.4,491.2 535.7,497.6 535.9,494.7 536.2,501.5 536.4,497.2 536.7,493.8 536.9,501.7 537.2,499.2 537.4,496.4 537.7,501.8 538.0,499.1 538.2,505.0 538.5,501.3 538.7,498.9 539.0,505.6 539.2,502.1 539.5,509.7 539.7,504.8 540.0,502.5 540.2,509.6 540.5,505.6 540.7,502.4 541.0,508.4 541.2,505.9 541.5,513.3 541.7,509.7 542.0,506.9 542.2,512.4 542.5,510.3 542.7,506.9 543.0,512.4 543.2,509.8 543.5,516.3 543.8,513.9 544.0,510.2 544.3,516.7 544.5,514.6 544.8,519.1 545.0,515.8 545.3,514.2 545.5,520.0 545.8,516.6 546.0,513.8 546.3,519.6 546.5,517.1 546.8,522.7 547.0,520.3 547.3,516.1 547.5,522.4 547.8,519.9 548.0,525.7 548.3,523.3 548.5,519.8 548.8,525.6 549.0,523.0 549.3,519.5 549.6,525.0 549.8,522.2 550.1,528.6 550.3,525.7 550.6,523.0 550.8,529.6 551.1,526.3 551.3,523.9 551.6,529.8 551.8,525.8 552.1,533.0 552.3,529.6 552.6,525.5 552.8,532.1 553.1,529.4 553.3,535.0 553.6,532.3 553.8,528.7 554.1,535.0 554.3,531.1 554.6,528.3 554.8,533.9 555.1,531.2 555.3,535.8 555.6,533.7 555.9,530.9 556.1,536.5 556.4,532.7 556.6,529.7 556.9,534.8 557.1,531.4 557.4,537.7 557.6,534.4 557.9,531.6 558.1,536.5 558.4,534.2 558.6,538.6 558.9,535.7 559.1,532.7 559.4,539.3 559.6,534.8 559.9,530.4 560.1,537.8 560.4,534.1 560.6,539.3 560.9,535.8 561.1,532.5 561.4,538.8 561.7,535.5 561.9,540.0 562.2,538.6 562.4,533.4 562.7,538.8 562.9,535.5 563.2,531.2 563.4,537.9 563.7,533.2 563.9,537.5 564.2,533.5 564.4,529.5 564.7,534.6 564.9,531.3 565.2,526.5 565.4,533.0 565.7,528.0 565.9,533.3 566.2,530.0 566.4,524.3 566.7,530.5 566.9,527.6 567.2,532.9 567.5,529.2 567.7,526.0 568.0,531.5 568.2,529.2 568.5,527.0 568.7,532.0 569.0,533.0 569.2,536.8 569.5,536.4 569.7,537.3 570.0,542.3 570.2,541.0 570.5,546.2 570.7,546.0 571.0,544.8 571.2,550.8 571.5,549.5 571.7,548.4 572.0,553.9 572.2,552.8 572.5,558.6 572.7,557.3 573.0,554.3 573.3,561.0 573.5,558.6 573.8,557.2 574.0,563.6 574.3,561.4 574.5,566.9 574.8,566.2 575.0,563.5 575.3,568.7 575.5,567.5 575.8,573.7 576.0,571.2 576.3,567.8 576.5,574.1 576.8,572.1 577.0,571.0 577.3,576.2 577.5,573.7 577.8,579.8 578.0,576.4 578.3,574.3 578.5,580.3 578.8,576.8 579.1,574.8 579.3,581.1 579.6,577.5 579.8,584.6 580.1,581.9 580.3,579.4 580.6,584.3 580.8,582.2 581.1,589.0 581.3,585.9 581.6,582.3 581.8,588.9 582.1,586.9 582.3,583.3 582.6,589.6 582.8,588.2 583.1,592.7 583.3,590.0 583.6,586.7 583.8,592.9 584.1,591.5 584.3,596.5 584.6,593.1 584.8,590.5 585.1,597.1 585.4,594.7 585.6,591.0 585.9,597.9 586.1,594.3 586.4,600.9 586.6,598.1 586.9,595.2 587.1,600.7 587.4,597.9 587.6,595.2 587.9,600.3 588.1,598.1 588.4,604.4 588.6,601.7 588.9,598.0 589.1,604.0 589.4,601.1 589.6,606.7 589.9,604.0 590.1,601.2 590.4,607.3 590.6,603.4 590.9,600.7 591.2,605.7 591.4,604.4 591.7,609.7 591.9,607.0 592.2,603.0 592.4,609.7 592.7,606.8 592.9,613.3 593.2,608.7 593.4,606.7 593.7,612.2 593.9,608.6 594.2,606.0 594.4,611.7 594.7,608.3 594.9,614.1 595.2,611.3 595.4,607.9 595.7,613.7 595.9,609.9 596.2,606.8 596.4,613.3 596.7,610.5 597.0,615.7 597.2,613.2 597.5,608.9 597.7,614.3 598.0,611.9 598.2,616.9 598.5,614.4 598.7,611.4 599.0,616.5 599.2,613.2 599.5,611.3 599.7,616.0 600.0,612.5 600.2,618.8 600.5,614.8 600.7,611.4 601.0,617.6 601.2,612.5 601.5,611.3 601.7,615.7 602.0,612.2 602.2,619.0 602.5,615.2 602.8,610.9 603.0,617.6 603.3,613.3 603.5,619.3 603.8,615.3 604.0,612.1 604.3,618.6 604.5,614.8 604.8,611.3 605.0,617.5 605.3,613.2 605.5,618.6 605.8,615.2 606.0,612.7 606.3,617.4 606.5,613.9 606.8,619.4 607.0,615.9 607.3,612.3 607.5,617.7 607.8,613.9 608.0,609.8 608.3,615.4 608.6,612.4 608.8,618.2 609.1,614.6 609.3,610.3 609.6,615.4 609.8,612.5 610.1,608.7 610.3,613.0 610.6,610.6 610.8,616.0 611.1,612.9 611.3,607.4 611.6,612.6 611.8,609.9 612.1,613.3 612.3,609.9 612.6,605.8 612.8,610.1 613.1,605.7 613.3,602.9 613.6,607.3 613.8,603.2 614.1,606.5 614.3,602.3 614.6,599.7 614.9,602.2 615.1,598.8 615.4,593.6 615.6,597.6 615.9,593.1 616.1,596.8 616.4,593.0 616.6,588.6 616.9,592.3 617.1,589.2 617.4,591.9 617.6,588.2 617.9,583.7 618.1,586.8 618.4,582.9 618.6,580.0 618.9,583.4 619.1,579.3 619.4,581.7 619.6,577.4 619.9,574.7 620.1,576.8 620.4,572.2 620.7,574.8 620.9,572.0 621.2,568.0 621.4,572.0 621.7,567.4 621.9,563.1 622.2,565.8 622.4,563.4 622.7,564.4 622.9,561.7 623.2,557.9 623.4,560.9 623.7,556.7 623.9,552.5 624.2,555.5 624.4,551.5 624.7,554.4 624.9,550.1 625.2,547.7 625.4,548.7 625.7,545.4 625.9,547.0 626.2,543.8 626.5,540.1 626.7,542.5 627.0,539.2 627.2,534.7 627.5,536.8 627.7,534.3 628.0,535.7 628.2,531.8 628.5,529.3 628.7,531.3 629.0,525.6 629.2,529.3 629.5,526.3 629.7,522.7 630.0,524.1 630.2,521.7 630.5,516.6 630.7,519.2 631.0,515.7 631.2,517.8 631.5,514.6 631.7,511.1 632.0,512.7 632.3,509.9 632.5,505.0 632.8,507.6 633.0,505.1 633.3,506.5 633.5,503.4 633.8,498.9 634.0,501.4 634.3,497.9 634.5,500.7 634.8,496.8 635.0,493.3 635.3,496.6 635.5,493.3 635.8,488.9 636.0,492.3 636.3,488.8 636.5,490.8 636.8,486.8 637.0,485.0 637.3,488.0 637.5,483.6 637.8,480.1 638.1,482.4 638.3,478.5 638.6,482.5 638.8,477.8 639.1,475.6 639.3,477.4 639.6,474.3 639.8,477.9 640.1,474.2 640.3,469.3 640.6,472.3 640.8,467.4 641.1,464.0 641.3,466.6 641.6,463.5 641.8,464.3 642.1,461.2 642.3,457.2 642.6,458.3 642.8,455.2 643.1,458.0 643.3,453.3 643.6,449.9 643.9,452.1 644.1,447.4 644.4,444.8 644.6,447.1 644.9,443.4 645.1,445.4 645.4,440.7 645.6,437.0 645.9,439.2 646.1,435.4 646.4,431.9 646.6,435.3 646.9,431.9 647.1,433.1 647.4,430.3 647.6,425.4 647.9,428.5 648.1,424.4 648.4,426.5 648.6,423.9 648.9,420.3 649.1,422.5 649.4,418.8 649.6,414.9 649.9,418.0 650.2,414.1 650.4,417.2 650.7,412.7 650.9,409.9 651.2,412.6 651.4,409.4 651.7,405.7 651.9,407.8 652.2,403.6 652.4,405.5 652.7,402.9 652.9,400.1 653.2,402.8 653.4,396.6 653.7,400.2 653.9,396.8 654.2,392.7 654.4,395.9 654.7,392.2 654.9,388.2 655.2,391.0 655.4,386.4 655.7,389.4 656.0,385.8 656.2,383.2 656.5,384.5 656.7,381.7 657.0,385.2 657.2,381.0 657.5,377.9 657.7,380.1 658.0,377.1 658.2,373.7 658.5,377.9 658.7,373.3 659.0,377.4 659.2,372.8 659.5,369.0 659.7,373.8 660.0,369.4 660.2,366.0 660.5,369.6 660.7,366.6 661.0,370.9 661.2,365.1 661.5,362.9 661.8,366.3 662.0,362.4 662.3,366.4 662.5,363.0 662.8,358.0 663.0,362.6 663.3,358.7 663.5,355.4 663.8,360.2 664.0,356.1 664.3,360.3 664.5,355.8 664.8,351.2 665.0,356.9 665.3,352.8 665.5,357.2 665.8,354.0 666.0,349.2 666.3,353.4 666.5,348.2 666.8,346.1 667.0,349.9 667.3,345.6 667.6,350.5 667.8,345.8 668.1,342.2 668.3,348.0 668.6,343.4 668.8,339.6 669.1,343.8 669.3,339.9 669.6,344.1 669.8,341.4 670.1,336.0 670.3,341.2 670.6,336.6 670.8,341.3 671.1,336.1 671.3,332.5 671.6,339.5 671.8,335.5 672.1,330.4 672.3,335.8 672.6,332.2 672.8,336.4 673.1,334.0 673.4,328.4 673.6,333.8 673.9,328.6 674.1,327.2 674.4,331.5 674.6,328.5 674.9,332.2 675.1,329.0 675.4,324.9 675.6,330.3 675.9,327.5 676.1,332.9 676.4,328.4 676.6,323.4 676.9,329.6 677.1,326.0 677.4,321.6 677.6,327.0 677.9,323.1 678.1,327.7 678.4,324.5 678.6,321.5 678.9,325.4 679.1,322.2 679.4,328.2 679.7,323.1 679.9,320.0 680.2,324.7 680.4,321.6 680.7,317.3 680.9,323.2 681.2,319.7 681.4,325.4 681.7,321.7 681.9,316.6 682.2,324.6 682.4,319.7 682.7,315.5 682.9,321.4 683.2,318.2 683.4,323.0 683.7,319.6 683.9,315.8 684.2,322.1 684.4,317.5 684.7,323.9 684.9,320.1 685.2,316.1 685.5,322.6 685.7,318.1 686.0,313.6 686.2,320.2 686.5,316.4 686.7,322.0 687.0,318.4 687.2,316.0 687.5,320.4 687.7,316.9 688.0,322.2 688.2,319.4 688.5,314.9 688.7,320.2 689.0,316.3 689.2,313.7 689.5,319.6 689.7,314.5 690.0,320.8 690.2,318.0 690.5,314.6 690.7,319.0 691.0,315.9 691.3,313.1 691.5,318.1 691.8,314.6 692.0,320.3 692.3,316.3 692.5,313.5 692.8,319.5 693.0,314.9 693.3,321.7 693.5,318.7 693.8,314.6 694.0,320.9 694.3,316.5 694.5,314.1 694.8,318.7 695.0,316.8 695.3,321.2 695.5,317.5 695.8,313.9 696.0,320.1 696.3,316.5 696.5,312.9 696.8,319.0 697.1,316.1 697.3,322.1 697.6,317.8 697.8,315.3 698.1,319.8 698.3,316.3 698.6,322.1 698.8,319.7 699.1,314.9 699.3,320.9 699.6,319.0 699.8,315.7 700.1,321.4 700.3,316.2 700.6,323.0 700.8,320.0 701.1,316.1 701.3,321.0 701.6,318.2 701.8,323.3 702.1,320.1 702.3,318.6 702.6,323.7 702.9,318.9 703.1,315.4 703.4,322.5 703.6,318.3 703.9,325.0 704.1,320.8 704.4,317.6 704.6,323.8 704.9,319.5 705.1,315.6 705.4,321.9 705.6,318.8 705.9,325.0 706.1,321.7 706.4,318.2 706.6,324.5 706.9,320.2 707.1,327.6 707.4,324.5 707.6,320.1 707.9,325.9 708.1,323.2 708.4,319.4 708.6,325.1 708.9,321.4 709.2,327.1 709.4,323.4 709.7,321.1 709.9,327.4 710.2,322.7 710.4,319.8 710.7,326.0 710.9,322.2 711.2,328.0 711.4,324.8 711.7,320.5 711.9,327.7 712.2,324.1 712.4,331.6 712.7,327.5 712.9,323.3 713.2,329.6 713.4,327.2 713.7,323.8 713.9,329.0 714.2,325.4 714.4,330.7 714.7,328.0 715.0,324.8 715.2,330.5 715.5,328.6 715.7,332.5 716.0,330.2 716.2,327.2 716.5,333.3 716.7,330.8 717.0,325.6 717.2,332.1 717.5,329.3 717.7,335.4 718.0,331.8 718.2,328.3 718.5,335.5 718.7,331.0 719.0,328.0 719.2,335.4 719.5,332.3 719.7,337.9 720.0,333.6 720.2,330.4 720.5,336.5 720.8,333.2 721.0,339.7 721.3,337.5 721.5,333.7 721.8,339.2 722.0,336.0 722.3,332.6 722.5,340.2 722.8,335.1 723.0,342.6 723.3,338.4 723.5,335.5 723.8,341.4 724.0,339.8 724.3,345.3 724.5,343.9 724.8,338.6 725.0,344.7 725.3,342.7 725.5,339.8 725.8,345.4 726.0,341.5 726.3,349.6 726.6,346.3 726.8,343.4 727.1,348.8 727.3,346.8 727.6,343.4 727.8,349.8 728.1,346.9 728.3,353.8 728.6,350.1 728.8,347.5 729.1,354.4 729.3,351.2 729.6,357.0 729.8,354.2 730.1,352.3 730.3,357.3 730.6,355.3 730.8,353.6 731.1,358.6 731.3,355.2 731.6,361.0 731.8,359.0 732.1,355.4 732.4,361.3 732.6,359.0 732.9,356.0 733.1,363.2 733.4,359.0 733.6,366.9 733.9,362.7 734.1,360.4 734.4,366.8 734.6,363.8 734.9,370.1 735.1,366.3 735.4,362.7 735.6,370.0 735.9,366.3 736.1,364.2 736.4,371.2 736.6,367.7 736.9,373.5 737.1,370.4 737.4,368.1 737.6,374.2 737.9,370.6 738.2,377.8 738.4,374.2 738.7,372.1 738.9,377.8 739.2,375.9 739.4,373.0 739.7,378.6 739.9,375.7 740.2,382.1 740.4,379.9 740.7,376.9 740.9,382.4 741.2,379.7 741.4,377.8 741.7,381.9 741.9,380.5 742.2,385.6 742.4,384.3 742.7,380.5 742.9,386.7 743.2,383.4 743.4,390.1 743.7,387.9 743.9,385.7 744.2,390.0 744.5,387.8 744.7,387.7 745.0,391.9 745.2,388.6 745.5,395.0 745.7,390.3 746.0,390.1 746.2,395.3 746.5,391.5 746.7,399.1 747.0,395.2 747.2,392.1 747.5,399.1 747.7,396.1 748.0,392.6 748.2,399.0 748.5,395.2 748.7,401.3 749.0,399.6 749.2,396.9 749.5,402.5 749.7,399.4 750.0,396.0 750.3,402.3 750.5,398.8 750.8,406.6 751.0,402.2 751.3,399.8 751.5,405.7 751.8,401.9 752.0,410.0 752.3,405.6 752.5,402.4 752.8,409.1 753.0,405.4 753.3,402.9 753.5,408.5 753.8,406.3 754.0,412.1 754.3,408.1 754.5,406.4 754.8,412.0 755.0,408.0 755.3,405.7 755.5,411.8 755.8,409.4 756.1,413.8 756.3,411.5 756.6,407.5 756.8,414.0 757.1,410.0 757.3,416.1 757.6,412.9 757.8,408.4 758.1,413.7 758.3,411.3 758.6,407.4 758.8,413.4 759.1,409.9 759.3,414.8 759.6,411.7 759.8,407.1 760.1,412.3 760.3,408.8 760.6,413.5 760.8,409.1 761.1,405.3 761.3,409.3 761.6,405.5 761.9,402.0 762.1,406.7 762.4,402.1 762.6,407.0 762.9,403.8 763.1,400.1 763.4,402.9 763.6,399.7 763.9,395.5 764.1,399.9 764.4,396.0 764.6,400.3 764.9,396.5 765.1,392.2 765.4,396.7 765.6,393.0 765.9,398.2 766.1,394.7 766.4,390.2 766.6,395.8 766.9,392.4 767.1,387.1 767.4,393.2 767.7,390.0 767.9,395.4 768.2,391.3 768.4,389.1 768.7,394.6 768.9,390.8 769.2,389.6 769.4,393.8 769.7,391.8 769.9,397.4 770.2,395.3 770.4,393.3 770.7,398.2 770.9,396.5 771.2,402.1 771.4,399.5 771.7,398.9 771.9,403.8 772.2,401.6 772.4,399.4 772.7,405.2 772.9,403.5 773.2,408.7 773.4,407.7 773.7,403.1 774.0,409.2 774.2,407.8 774.5,412.9 774.7,411.3 775.0,408.0 775.2,414.9 775.5,411.8 775.7,409.3 776.0,415.2 776.2,412.4 776.5,418.1 776.7,415.4 777.0,412.0 777.2,417.4 777.5,414.0 777.7,410.9 778.0,418.1 778.2,413.2 778.5,420.9 778.7,417.2 779.0,415.0 779.2,420.8 779.5,417.1 779.8,423.7 780.0,419.1 780.3,417.5 780.5,423.7 780.8,419.1 781.0,417.6 781.3,423.1 781.5,420.0 781.8,425.2 782.0,423.1 782.3,419.9 782.5,425.6 782.8,421.8 783.0,428.9 783.3,425.9 783.5,422.1 783.8,428.5 784.0,424.2 784.3,421.3 784.5,427.5 784.8,424.1 785.0,431.7 785.3,426.9 785.6,423.0 785.8,429.9 786.1,425.4 786.3,423.0 786.6,429.3 786.8,425.2 787.1,431.4 787.3,427.7 787.6,425.0 787.8,430.5 788.1,428.6 788.3,434.0 788.6,430.2 788.8,426.1 789.1,434.2 789.3,430.4 789.6,426.5 789.8,432.4 790.1,429.0 790.3,434.6 790.6,432.7 790.8,428.3 791.1,433.3 791.4,430.3 791.6,425.8 791.9,433.7 792.1,430.3 792.4,436.9 792.6,433.6 792.9,428.5 793.1,435.1 793.4,432.0 793.6,437.8 793.9,433.5 794.1,430.8 794.4,436.5 794.6,433.5 794.9,429.1 795.1,434.9 795.4,431.1 795.6,437.1 795.9,433.2 796.1,429.9 796.4,436.2 796.6,432.6 796.9,438.9 797.2,435.1 797.4,431.1 797.7,435.8 797.9,433.2 798.2,429.9 798.4,434.1 798.7,430.5 798.9,436.3 799.2,432.5 799.4,429.2 799.7,434.5 799.9,431.5 800.2,426.8 800.4,433.1 800.7,429.1 800.9,434.4 801.2,431.8 801.4,427.4 801.7,433.3 801.9,429.0 802.2,435.2 802.4,431.3 802.7,427.0 803.0,431.6 803.2,429.3 803.5,425.4 803.7,430.6 804.0,426.8 804.2,432.3 804.5,428.4 804.7,423.9 805.0,429.9 805.2,426.3 805.5,421.8 805.7,427.1 806.0,424.9 806.2,429.7 806.5,425.2 806.7,421.2 807.0,425.4 807.2,422.3 807.5,428.4 807.7,425.3 808.0,419.4 808.2,425.4 808.5,423.0 808.7,418.3 809.0,423.2 809.3,419.7 809.5,423.9 809.8,419.8 810.0,416.4 810.3,421.2 810.5,416.1 810.8,422.2 811.0,416.3 811.3,413.0 811.5,419.6 811.8,413.6 812.0,410.4 812.3,413.6 812.5,410.2 812.8,413.9 813.0,410.3 813.3,407.1 813.5,411.6 813.8,407.3 814.0,404.0 814.3,406.5 814.5,403.9 814.8,406.8 815.1,403.6 815.3,398.9 815.6,401.8 815.8,399.2 816.1,401.2 816.3,397.3 816.6,393.1 816.8,395.7 817.1,392.4 817.3,388.9 817.6,390.2 817.8,386.6 818.1,389.1 818.3,384.5 818.6,382.0 818.8,383.5 819.1,379.7 819.3,380.4 819.6,377.2 819.8,373.8 820.1,376.1 820.3,372.1 820.6,369.3 820.9,371.1 821.1,367.1 821.4,368.0 821.6,366.3 821.9,361.5 822.1,363.9 822.4,359.4 822.6,356.0 822.9,358.2 823.1,354.1 823.4,356.3 823.6,351.7 823.9,349.2 824.1,348.5 824.4,345.4 824.6,347.9 824.9,343.3 825.1,339.2 825.4,339.8 825.6,337.6 825.9,331.7 826.1,334.4 826.4,330.1 826.7,331.8 826.9,328.0 827.2,322.6 827.4,323.8 827.7,320.0 827.9,315.0 828.2,317.8 828.4,312.9 828.7,314.6 828.9,309.7 829.2,306.3 829.4,307.1 829.7,303.3 829.9,303.8 830.2,300.9 830.4,295.7 830.7,295.8 830.9,293.6 831.2,288.9 831.4,289.8 831.7,287.8 831.9,287.6 832.2,282.9 832.5,279.4 832.7,281.7 833.0,277.6 833.2,280.3 833.5,276.4 833.7,271.5 834.0,273.8 834.2,270.4 834.5,266.0 834.7,267.8 835.0,264.9 835.2,266.7 835.5,261.9 835.7,258.7 836.0,261.0 836.2,257.5 836.5,253.5 836.7,257.3 837.0,252.3 837.2,255.2 837.5,252.3 837.7,247.0 838.0,251.5 838.2,248.7 838.5,251.8 838.8,248.2 839.0,245.4 839.3,249.7 839.5,245.5 839.8,241.7 840.0,246.0 840.3,242.6 840.5,247.3 840.8,245.0 841.0,239.8 841.3,244.4 841.5,240.6 841.8,245.9 842.0,241.1 842.3,237.4 842.5,244.1 842.8,238.4 843.0,234.9 843.3,241.2 843.5,237.5 843.8,241.3 844.0,238.8 844.3,233.7 844.6,240.2 844.8,235.6 845.1,231.1 845.3,236.9 845.6,232.9 845.8,237.3 846.1,235.1 846.3,229.6 846.6,235.7 846.8,230.8 847.1,235.2 847.3,231.6 847.6,228.3 847.8,234.0 848.1,230.7 848.3,225.7 848.6,230.7 848.8,226.2 849.1,232.2 849.3,228.5 849.6,223.0 849.8,230.4 850.1,226.4 850.4,223.1 850.6,226.5 850.9,223.1 851.1,228.5 851.4,223.8 851.6,220.1 851.9,225.4 852.1,222.4 852.4,227.8 852.6,224.4 852.9,219.5 853.1,224.4 853.4,221.6 853.6,217.7 853.9,223.3 854.1,219.8 854.4,224.2 854.6,221.1 854.9,216.2 855.1,222.3 855.4,218.7 855.6,223.7 855.9,220.0 856.2,215.2 856.4,221.1 856.7,217.7 856.9,213.0 857.2,218.8 857.4,216.9 857.7,221.1 857.9,216.6 858.2,212.6 858.4,219.6 858.7,213.3 858.9,211.0 859.2,217.1 859.4,212.7 859.7,218.9 859.9,214.3 860.2,211.2 860.4,216.9 860.7,213.2 860.9,219.0 861.2,215.3 861.4,212.3 861.7,217.3 862.0,213.6 862.2,210.5 862.5,216.6 862.7,212.7 863.0,218.6 863.2,216.1 863.5,214.5 863.7,219.8 864.0,217.7 864.2,217.6 864.5,222.2 864.7,219.5 865.0,224.7 865.2,224.1 865.5,221.1 865.7,227.7 866.0,225.5 866.2,231.5 866.5,228.4 866.7,227.4 867.0,231.4 867.2,230.4 867.5,229.8 867.7,234.8 868.0,232.2 868.3,238.8 868.5,237.5 868.8,235.8 869.0,240.8 869.3,238.8 869.5,244.8 869.8,242.4 870.0,238.5 870.3,244.5 870.5,240.5 870.8,235.5 871.0,241.7 871.3,239.0 871.5,242.1 871.8,239.0 872.0,234.4 872.3,239.1 872.5,235.8 872.8,232.3 873.0,236.8 873.3,232.7 873.5,237.6 873.8,232.1 874.1,229.6 874.3,234.2 874.6,229.8 874.8,235.0 875.1,230.5 875.3,227.7 875.6,232.0 875.8,227.6 876.1,224.7 876.3,230.0 876.6,226.7 876.8,233.5 877.1,229.1 877.3,226.1 877.6,233.5 877.8,228.4 878.1,235.4 878.3,233.4 878.6,231.5 878.8,237.4 879.1,233.9 879.3,233.0 879.6,237.9 879.9,236.2 880.1,241.3 880.4,239.4 880.6,239.0 880.9,244.5 881.1,241.9 881.4,241.3 881.6,245.9 881.9,243.7 882.1,248.3 882.4,248.5 882.6,246.1 882.9,251.2 883.1,249.0 883.4,254.1 883.6,253.1 883.9,250.7 884.1,256.7 884.4,254.4 884.6,251.4 884.9,256.9 885.1,256.1 885.4,260.4 885.7,259.5 885.9,257.9 886.2,262.2 886.4,261.4 886.7,259.0 886.9,264.9 887.2,262.2 887.4,268.1 887.7,266.4 887.9,265.4 888.2,270.2 888.4,268.2 888.7,272.6 888.9,271.7 889.2,269.3 889.4,275.0 889.7,273.8 889.9,273.0 890.2,277.9 890.4,276.5 890.7,281.5 890.9,281.3 891.2,279.0 891.5,284.7 891.7,284.5 892.0,288.6 892.2,288.3 892.5,287.2 892.7,293.0 893.0,291.3 893.2,288.2 893.5,294.5 893.7,293.0 894.0,298.8 894.2,296.5 894.5,295.0 894.7,300.5 895.0,296.2 895.2,293.3 895.5,298.5 895.7,297.3 896.0,302.0 896.2,298.3 896.5,293.7 896.7,300.0 897.0,296.6 897.3,301.6 897.5,297.7 897.8,293.6 898.0,300.4 898.3,294.9 898.5,290.4 898.8,296.0 899.0,292.1 899.3,297.2 899.5,293.1 899.8,288.6 900.0,294.0 900.3,290.4 900.5,294.2 900.8,292.3 901.0,288.1 901.3,291.0 901.5,287.9 901.8,284.7 902.0,290.0 902.3,286.3 902.5,289.4 902.8,285.9 903.0,282.4 903.3,288.5 903.6,283.7 903.8,280.9 904.1,286.6 904.3,283.0 904.6,287.5 904.8,284.7 905.1,281.0 905.3,286.4 905.6,283.8 905.8,288.5 906.1,285.9 906.3,281.0 906.6,288.1 906.8,284.4 907.1,279.3 907.3,285.7 907.6,282.1 907.8,287.1 908.1,284.5 908.3,280.8 908.6,285.7 908.8,282.6 909.1,279.5 909.4,284.7 909.6,280.7 909.9,288.0 910.1,282.8 910.4,280.1 910.6,286.4 910.9,282.7 911.1,287.0 911.4,284.4 911.6,281.0 911.9,286.9 912.1,283.9 912.4,280.4 912.6,286.0 912.9,282.7 913.1,289.1 913.4,285.8 913.6,280.4 913.9,288.8 914.1,283.8 914.4,290.5 914.6,285.6 914.9,282.9 915.2,288.4 915.4,286.4 915.7,282.9 915.9,288.3 916.2,284.8 916.4,291.1 916.7,286.9 916.9,283.7 917.2,289.6 917.4,287.1 917.7,283.2 917.9,288.4 918.2,286.0 918.4,292.1 918.7,289.2 918.9,284.6 919.2,291.2 919.4,288.9 919.7,293.4 919.9,290.0 920.2,287.2 920.4,292.6 920.7,289.6 921.0,285.9 921.2,291.8 921.5,289.5 921.7,294.8 922.0,291.0 922.2,288.2 922.5,294.3 922.7,291.3 923.0,288.3 923.2,294.9 923.5,289.8 923.7,296.5 924.0,292.2 924.2,290.2 924.5,296.5 924.7,292.5 925.0,298.4 925.2,295.1 925.5,291.5 925.7,298.9 926.0,296.4 926.2,291.3 926.5,299.1 926.8,294.8 927.0,300.2 927.3,298.2 927.5,295.2 927.8,301.1 928.0,297.5 928.3,304.8 928.5,300.5 928.8,298.0 929.0,304.1 929.3,300.1 929.5,296.5 929.8,302.7 930.0,300.4 930.3,307.0 930.5,302.7 930.8,300.3 931.0,307.8 931.3,302.7 931.5,301.0 931.8,307.1 932.0,304.3 932.3,309.1 932.5,307.1 932.8,303.0 933.1,310.8 933.3,306.4 933.6,313.3 933.8,309.5 934.1,306.9 934.3,312.1 934.6,310.1 934.8,307.2 935.1,312.9 935.3,310.8 935.6,316.2 935.8,313.4 936.1,310.1 936.3,317.1 936.6,312.5 936.8,318.9 937.1,315.8 937.3,313.2 937.6,319.2 937.8,316.4 938.1,313.0 938.3,318.7 938.6,315.8 938.9,322.3 939.1,317.5 939.4,316.6 939.6,321.6 939.9,318.6 940.1,315.8 940.4,321.6 940.6,317.8 940.9,324.6 941.1,322.5 941.4,319.1 941.6,325.3 941.9,321.0 942.1,327.3 942.4,324.9 942.6,321.9 942.9,327.2 943.1,323.4 943.4,319.6 943.6,327.8 943.9,322.8 944.1,330.1 944.4,327.2 944.7,325.5 944.9,329.7 945.2,326.4 945.4,323.6 945.7,329.7 945.9,327.1 946.2,332.8 946.4,328.7 946.7,324.7 946.9,332.3 947.2,328.5 947.4,335.9 947.7,331.0 947.9,328.7 948.2,334.2 948.4,330.9 948.7,329.2 948.9,334.4 949.2,330.9 949.4,337.5 949.7,333.2 949.9,330.2 950.2,336.0 950.5,334.3 950.7,339.3 951.0,336.1 951.2,333.0 951.5,338.1 951.7,334.7 952.0,330.3 952.2,337.5 952.5,333.9 952.7,339.4 953.0,336.8 953.2,331.4 953.5,338.6 953.7,333.8 954.0,330.4 954.2,336.7 954.5,334.0 954.7,338.2 955.0,334.7 955.2,330.9 955.5,338.6 955.7,334.0 956.0,339.7 956.3,337.0 956.5,332.2 956.8,336.4 957.0,333.7 957.3,329.5 957.5,337.2 957.8,331.3 958.0,338.1 958.3,333.8 958.5,330.1 958.8,336.0 959.0,332.2 959.3,328.1 959.5,333.4 959.8,330.0 960.0,335.3 960.3,331.6 960.5,328.5 960.8,333.9 961.0,330.5 961.3,335.7 961.5,333.3 961.8,327.8 962.0,333.0 962.3,330.4 962.6,325.3 962.8,331.0 963.1,327.5 963.3,331.8 963.6,327.7 963.8,324.5 964.1,328.9 964.3,324.4 964.6,328.9 964.8,325.4 965.1,320.6 965.3,326.2 965.6,322.1 965.8,319.0 966.1,324.7 966.3,320.0 966.6,325.7 966.8,321.6 967.1,317.9 967.3,324.5 967.6,322.2 967.8,320.0 968.1,325.7 968.4,323.8 968.6,327.4 968.9,328.7 969.1,328.2 969.4,333.0 969.6,332.3 969.9,337.5 970.1,337.7 970.4,335.3 970.6,341.2 970.9,339.2 971.1,337.1 971.4,342.2 971.6,340.0 971.9,345.2 972.1,344.1 972.4,341.4 972.6,346.5 972.9,344.6 973.1,350.1 973.4,349.5 973.6,346.0 973.9,352.1 974.2,348.8 974.4,346.5 974.7,353.7 974.9,350.3 975.2,356.6 975.4,355.0 975.7,352.4 975.9,357.6 976.2,354.7 976.4,351.7 976.7,357.5 976.9,356.0 977.2,360.1 977.4,357.9 977.7,353.7 977.9,360.2 978.2,358.2 978.4,364.4 978.7,361.2 978.9,357.7 979.2,363.6 979.4,360.5 979.7,357.5 980.0,364.5 980.2,361.6 980.5,367.1 980.7,363.3 981.0,359.8 981.2,366.7 981.5,363.2 981.7,359.0 982.0,367.1 982.2,363.0 982.5,368.9 982.7,365.3 983.0,362.0 983.2,369.2 983.5,364.8 983.7,371.5 984.0,368.6 984.2,366.1 984.5,371.4 984.7,367.7 985.0,364.1 985.2,371.0 985.5,367.8 985.8,372.9 986.0,370.3 986.3,366.5 986.5,371.6 986.8,368.7 987.0,375.8 987.3,372.9 987.5,369.1 987.8,374.6 988.0,370.9 988.3,368.4 988.5,374.3 988.8,369.7 989.0,377.2 989.3,373.0 989.5,370.5 989.8,376.4 990.0,373.2 990.3,370.1 990.5,375.9 990.8,371.5 991.0,377.6 991.3,375.5 991.6,371.9 991.8,376.6 992.1,373.0 992.3,380.9 992.6,378.4 992.8,374.2 993.1,379.6 993.3,376.6 993.6,371.3 993.8,378.5 994.1,376.3 994.3,382.3 994.6,377.1 994.8,375.7 995.1,381.4 995.3,378.2 995.6,383.5 995.8,380.2 996.1,376.1 996.3,383.0 996.6,379.9 996.8,375.3 997.1,382.1 997.3,378.1 997.6,385.0 997.9,381.5 998.1,375.9 998.4,383.5 998.6,380.4 998.9,375.9 999.1,381.9 999.4,378.4 999.6,383.6 999.9,380.7 1000.1,378.1 1000.4,383.2 1000.6,380.3 1000.9,385.7 1001.1,382.2 1001.4,377.8 1001.6,383.9 1001.9,381.0 1002.1,377.0 1002.4,381.9 1002.6,377.6 1002.9,383.1 1003.1,380.1 1003.4,376.4 1003.7,380.6 1003.9,378.1 1004.2,374.4 1004.4,380.0 1004.7,375.6 1004.9,383.0 1005.2,378.3 1005.4,373.0 1005.7,379.0 1005.9,376.1 1006.2,381.4 1006.4,377.3 1006.7,373.3 1006.9,378.7 1007.2,374.6 1007.4,370.4 1007.7,376.8 1007.9,370.8 1008.2,377.5 1008.4,374.8 1008.7,369.6 1008.9,374.8 1009.2,372.8 1009.5,377.6 1009.7,372.8 1010.0,368.6 1010.2,373.6 1010.5,369.5 1010.7,365.8 1011.0,369.4 1011.2,366.5 1011.5,369.2 1011.7,364.7 1012.0,361.3 1012.2,365.1 1012.5,360.8 1012.7,356.3 1013.0,361.4 1013.2,357.2 1013.5,359.2 1013.7,355.5 1014.0,352.5 1014.2,355.6 1014.5,350.7 1014.7,354.0 1015.0,349.7 1015.3,346.7 1015.5,348.1 1015.8,344.0 1016.0,341.5 1016.3,343.5 1016.5,340.3 1016.8,341.4 1017.0,338.9 1017.3,334.4 1017.5,337.2 1017.8,332.3 1018.0,329.7 1018.3,330.8 1018.5,327.2 1018.8,329.9 1019.0,324.5 1019.3,321.3 1019.5,325.4 1019.8,319.7 1020.0,322.7 1020.3,319.7 1020.5,316.7 1020.8,317.9 1021.1,314.6 1021.3,310.2 1021.6,313.2 1021.8,310.4 1022.1,312.5 1022.3,308.6 1022.6,305.3 1022.8,307.7 1023.1,304.0 1023.3,306.3 1023.6,302.2 1023.8,299.6 1024.1,301.0 1024.3,298.7 1024.6,295.8 1024.8,297.9 1025.1,294.8 1025.3,295.2 1025.6,292.3 1025.8,288.0 1026.1,290.4 1026.3,286.2 1026.6,282.8 1026.8,286.4 1027.1,282.6 1027.4,285.3 1027.6,281.5 1027.9,277.7 1028.1,279.0 1028.4,275.8 1028.6,278.6 1028.9,275.3 1029.1,270.6 1029.4,273.0 1029.6,269.4 1029.9,267.0 1030.1,268.9 1030.4,264.7 1030.6,267.1 1030.9,264.2 1031.1,259.3 1031.4,263.1 1031.6,259.2 1031.9,262.4 1032.1,259.2 1032.4,255.6 1032.6,260.8 1032.9,255.2 1033.2,251.8 1033.4,254.5 1033.7,250.2 1033.9,255.7 1034.2,252.5 1034.4,246.8 1034.7,251.3 1034.9,248.2 1035.2,243.7 1035.4,246.3 1035.7,244.5 1035.9,248.0 1036.2,244.6 1036.4,239.7 1036.7,245.2 1036.9,241.4 1037.2,244.7 1037.4,241.5 1037.7,236.9 1037.9,241.6 1038.2,237.4 1038.4,233.7 1038.7,238.2 1039.0,235.4 1039.2,239.3 1039.5,234.8 1039.7,232.4 1040.0,236.7 1040.2,233.0 1040.5,228.4 1040.7,233.7 1041.0,229.2 1041.2,233.6 1041.5,230.2 1041.7,226.3 1042.0,231.2 1042.2,227.7 1042.5,231.0 1042.7,228.3 1043.0,223.7 1043.2,229.0 1043.5,225.5 1043.7,221.3 1044.0,225.9 1044.2,222.9 1044.5,227.5 1044.8,224.2 1045.0,220.4 1045.3,224.7 1045.5,220.3 1045.8,226.3 1046.0,222.8 1046.3,218.6 1046.5,223.0 1046.8,218.8 1047.0,215.4 1047.3,220.8 1047.5,217.9 1047.8,223.1 1048.0,219.7 1048.3,215.2 1048.5,221.8 1048.8,216.9 1049.0,213.4 1049.3,218.3 1049.5,215.0 1049.8,220.9 1050.0,216.9 1050.3,213.3 1050.6,217.7 1050.8,214.5 1051.1,220.8 1051.3,216.1 1051.6,212.0 1051.8,217.6 1052.1,213.6 1052.3,210.2 1052.6,216.6 1052.8,212.2 1053.1,217.6 1053.3,213.3 1053.6,209.4 1053.8,217.2 1054.1,211.7 1054.3,208.3 1054.6,213.7 1054.8,210.4 1055.1,215.7 1055.3,212.4 1055.6,209.6 1055.8,214.0 1056.1,211.1 1056.3,216.5 1056.6,213.4 1056.9,208.9 1057.1,215.3 1057.4,210.8 1057.6,206.7 1057.9,212.7 1058.1,209.3 1058.4,215.0 1058.6,211.8 1058.9,209.1 1059.1,213.5 1059.4,210.8 1059.6,216.4 1059.9,212.3 1060.1,208.5 1060.4,215.1 1060.6,211.5 1060.9,207.4 1061.1,213.3 1061.4,209.8 1061.6,214.8 1061.9,212.0 1062.1,208.5 1062.4,215.2 1062.7,209.8 1062.9,206.4 1063.2,212.8 1063.4,208.8 1063.7,214.7 1063.9,211.4 1064.2,207.6 1064.4,213.6 1064.7,210.3 1064.9,214.9 1065.2,212.7 1065.4,207.5 1065.7,215.7 1065.9,211.8 1066.2,207.3 1066.4,214.2 1066.7,210.0 1066.9,216.3 1067.2,213.0 1067.4,209.3 1067.7,215.0 1067.9,211.9 1068.2,217.3 1068.5,213.8 1068.7,210.0 1069.0,215.4 1069.2,214.0 1069.5,210.0 1069.7,214.7 1070.0,212.3 1070.2,218.2 1070.5,213.3 1070.7,210.6 1071.0,217.0 1071.2,214.7 1071.5,210.8 1071.7,216.9 1072.0,212.9 1072.2,219.2 1072.5,214.5 1072.7,212.1 1073.0,218.1 1073.2,213.5 1073.5,220.3 1073.7,217.7 1074.0,214.5 1074.3,220.1 1074.5,215.4 1074.8,212.4 1075.0,218.1 1075.3,215.7 1075.5,220.4 1075.8,216.9 1076.0,213.1 1076.3,220.2 1076.5,217.0 1076.8,212.9 1077.0,218.8 1077.3,215.8 1077.5,222.7 1077.8,217.7 1078.0,215.1 1078.3,221.2 1078.5,218.0 1078.8,224.5 1079.0,220.9 1079.3,217.2 1079.5,223.9 1079.8,220.3 1080.1,216.5 1080.3,222.4 1080.6,218.2 1080.8,225.1 1081.1,221.2 1081.3,217.6 1081.6,224.2 1081.8,219.9 1082.1,226.5 1082.3,223.4 1082.6,220.6 1082.8,226.3 1083.1,223.4 1083.3,220.8 1083.6,226.4 1083.8,221.9 1084.1,227.6 1084.3,224.8 1084.6,221.6 1084.8,227.0 1085.1,223.9 1085.3,220.6 1085.6,227.4 1085.9,225.3 1086.1,231.6 1086.4,226.7 1086.6,223.8 1086.9,229.4 1087.1,226.0 1087.4,233.1 1087.6,229.9 1087.9,226.3 1088.1,233.2 1088.4,229.4 1088.6,227.1 1088.9,232.3 1089.1,229.9 1089.4,235.4 1089.6,232.5 1089.9,229.8 1090.1,234.7 1090.4,232.0 1090.6,238.6 1090.9,235.4 1091.1,232.7 1091.4,238.2 1091.6,234.9 1091.9,232.7 1092.2,239.1 1092.4,235.5 1092.7,242.8 1092.9,239.6 1093.2,236.8 1093.4,242.8 1093.7,239.0 1093.9,237.9 1094.2,242.3 1094.4,240.0 1094.7,246.4 1094.9,243.3 1095.2,240.3 1095.4,245.8 1095.7,243.2 1095.9,249.5 1096.2,247.4 1096.4,243.4 1096.7,250.3 1096.9,247.3 1097.2,244.2 1097.4,249.9 1097.7,247.3 1098.0,252.4 1098.2,250.7 1098.5,248.0 1098.7,253.5 1099.0,251.3 1099.2,248.4 1099.5,253.8 1099.7,252.0 1100.0,257.2 1100.2,256.2 1100.5,251.3 1100.7,257.5 1101.0,254.8 1101.2,261.4 1101.5,259.2 1101.7,255.8 1102.0,261.5 1102.2,260.2 1102.5,256.9 1102.7,262.2 1103.0,259.5 1103.2,264.7 1103.5,262.9 1103.8,261.2 1104.0,265.5 1104.3,262.6 1104.5,269.6 1104.8,265.3 1105.0,264.9 1105.3,269.2 1105.5,267.0 1105.8,264.6 1106.0,271.5 1106.3,268.3 1106.5,272.9 1106.8,270.4 1107.0,268.9 1107.3,273.5 1107.5,271.9 1107.8,269.0 1108.0,275.9 1108.3,273.6 1108.5,277.3 1108.8,276.5 1109.0,274.0 1109.3,279.1 1109.6,276.6 1109.8,282.2 1110.1,280.2 1110.3,278.0 1110.6,284.6 1110.8,282.1 1111.1,278.5 1111.3,284.1 1111.6,282.6 1111.8,286.3 1112.1,284.6 1112.3,283.3 1112.6,290.2 1112.8,285.9 1113.1,283.9 1113.3,289.1 1113.6,287.2 1113.8,293.1 1114.1,290.2 1114.3,288.4 1114.6,294.0 1114.8,291.9 1115.1,297.4 1115.4,294.3 1115.6,292.7 1115.9,299.0 1116.1,295.5 1116.4,294.4 1116.6,299.7 1116.9,296.8 1117.1,302.9 1117.4,300.2 1117.6,297.5 1117.9,304.5 1118.1,302.1 1118.4,307.1 1118.6,304.9 1118.9,302.5 1119.1,308.9 1119.4,307.0 1119.6,303.3 1119.9,309.7 1120.1,307.2 1120.4,313.4 1120.6,311.6 1120.9,307.9 1121.1,312.9 1121.4,311.8 1121.7,308.7 1121.9,316.4 1122.2,312.7 1122.4,318.7 1122.7,316.8 1122.9,314.6 1123.2,319.9 1123.4,318.0 1123.7,324.3 1123.9,321.4 1124.2,320.5 1124.4,325.3 1124.7,321.5 1124.9,321.4 1125.2,325.4 1125.4,324.6 1125.7,331.4 1125.9,328.6 1126.2,325.2 1126.4,331.0 1126.7,329.4 1126.9,335.9 1127.2,332.5 1127.5,331.5 1127.7,336.7 1128.0,334.3 1128.2,332.2 1128.5,338.9 1128.7,334.9 1129.0,340.8 1129.2,339.9 1129.5,337.8 1129.7,342.1 1130.0,340.1 1130.2,337.9 1130.5,344.6 1130.7,341.7 1131.0,348.6 1131.2,346.1 1131.5,343.7 1131.7,349.3 1132.0,347.4 1132.2,353.2 1132.5,350.6 1132.7,348.6 1133.0,354.6 1133.3,351.9 1133.5,350.4 1133.8,355.4 1134.0,352.9 1134.3,359.2 1134.5,357.9 1134.8,355.6 1135.0,359.5 1135.3,358.4 1135.5,355.8 1135.8,361.6 1136.0,359.4 1136.3,365.2 1136.5,362.8 1136.8,360.7 1137.0,366.7 1137.3,363.6 1137.5,369.4 1137.8,367.2 1138.0,365.0 1138.3,371.7 1138.5,368.7 1138.8,367.4 1139.1,373.0 1139.3,371.6 1139.6,376.6 1139.8,375.5 1140.1,373.2 1140.3,378.7 1140.6,377.4 1140.8,381.4 1141.1,380.9 1141.3,379.8 1141.6,384.4 1141.8,382.4 1142.1,381.8 1142.3,386.2 1142.6,384.9 1142.8,388.4 1143.1,387.7 1143.3,384.9 1143.6,391.3 1143.8,389.2 1144.1,385.5 1144.3,391.5 1144.6,386.9 1144.9,395.2 1145.1,392.3 1145.4,388.2 1145.6,393.8 1145.9,390.8 1146.1,397.0 1146.4,393.0 1146.6,390.0 1146.9,393.8 1147.1,389.3 1147.4,386.5 1147.6,391.7 1147.9,386.8 1148.1,391.2 1148.4,386.9 1148.6,382.8 1148.9,386.6 1149.1,382.1 1149.4,386.5 1149.6,382.9 1149.9,379.5 1150.1,381.3 1150.4,377.7 1150.7,373.5 1150.9,376.2 1151.2,374.0 1151.4,377.7 1151.7,371.8 1151.9,368.5 1152.2,372.0 1152.4,367.4 1152.7,364.5 1152.9,366.7 1153.2,363.1 1153.4,365.9 1153.7,361.5 1153.9,357.2 1154.2,360.2 1154.4,356.0 1154.7,357.4 1154.9,353.5 1155.2,350.6 1155.4,351.8 1155.7,348.6 1155.9,345.4 1156.2,347.4 1156.4,344.5 1156.7,346.5 1157.0,343.9 1157.2,340.1 1157.5,344.8 1157.7,339.8 1158.0,336.3 1158.2,340.6 1158.5,336.1 1158.7,341.6 1159.0,337.9 1159.2,335.0 1159.5,339.7 1159.7,336.4 1160.0,342.6 1160.2,339.1 1160.5,335.2 1160.7,341.2 1161.0,336.0 1161.2,332.7 1161.5,338.9 1161.7,335.6 1162.0,340.9 1162.2,336.4 1162.5,333.0 1162.8,337.7 1163.0,335.4 1163.3,339.3 1163.5,336.6 1163.8,333.3 1164.0,336.8 1164.3,331.5 1164.5,329.0 1164.8,330.4 1165.0,326.4 1165.3,329.1 1165.5,324.3 1165.8,319.3 1166.0,321.2 1166.3,318.5 1166.5,314.5 1166.8,316.2 1167.0,312.3 1167.3,315.6 1167.5,312.1 1167.8,309.2 1168.0,311.2 1168.3,308.3 1168.6,311.6 1168.8,306.3 1169.1,303.2 1169.3,307.6 1169.6,302.7 1169.8,299.3 1170.1,303.0 1170.3,298.3 1170.6,301.7 1170.8,297.2 1171.1,294.9 1171.3,297.3 1171.6,293.7 1171.8,288.8 1172.1,293.8 1172.3,290.0 1172.6,292.0 1172.8,289.5 1173.1,283.7 1173.3,287.8 1173.6,283.2 1173.8,288.6 1174.1,281.7 1174.4,278.9 1174.6,282.0 1174.9,279.3 1175.1,275.6 1175.4,278.2 1175.6,274.2 1175.9,278.6 1176.1,273.3 1176.4,270.2 1176.6,274.3 1176.9,268.8 1177.1,272.6 1177.4,270.1 1177.6,265.9 1177.9,268.6 1178.1,265.6 1178.4,263.0 1178.6,265.5 1178.9,262.3 1179.1,265.9 1179.4,261.6 1179.6,259.1 1179.9,262.9 1180.2,259.2 1180.4,254.4 1180.7,259.1 1180.9,255.2 1181.2,260.2 1181.4,255.8 1181.7,251.7 1181.9,258.0 1182.2,252.6 1182.4,258.3 1182.7,254.5 1182.9,250.5 1183.2,255.5 1183.4,251.9 1183.7,249.0 1183.9,253.9 1184.2,249.8 1184.4,256.8 1184.7,251.2 1184.9,248.8 1185.2,253.9 1185.4,249.1 1185.7,255.3 1185.9,251.5 1186.2,248.7 1186.5,254.1 1186.7,249.6 1187.0,245.4 1187.2,250.7 1187.5,247.9 1187.7,252.8 1188.0,249.8 1188.2,246.0 1188.5,252.1 1188.7,248.7 1189.0,244.4 1189.2,250.3 1189.5,246.2 1189.7,252.5 1190.0,248.6 1190.2,245.3 1190.5,250.8 1190.7,245.8 1191.0,250.9 1191.2,248.4 1191.5,244.9 1191.7,249.3 1192.0,246.8 1192.3,242.1 1192.5,247.5 1192.8,243.8 1193.0,248.1 1193.3,244.0 1193.5,240.8 1193.8,245.3 1194.0,242.0 1194.3,238.1 1194.5,241.4 1194.8,238.5 1195.0,244.0 1195.3,238.3 1195.5,235.5 1195.8,239.6 1196.0,235.2 1196.3,241.5 1196.5,237.6 1196.8,232.8 1197.0,236.7 1197.3,234.0 1197.5,230.1 1197.8,233.2 1198.1,229.9 1198.3,233.5 1198.6,229.4 1198.8,226.0 1199.1,230.0 1199.3,226.7 1199.6,231.3 1199.8,227.2 1200.1,223.1 1200.3,228.9 1200.6,225.3 1200.8,221.0 1201.1,225.5 1201.3,222.5 1201.6,226.9 1201.8,222.9 1202.1,219.6 1202.3,225.7 1202.6,221.8 1202.8,217.9 1203.1,224.0 1203.3,219.9 1203.6,224.9 1203.9,221.8 1204.1,217.5 1204.4,223.6 1204.6,220.0 1204.9,225.3 1205.1,220.8 1205.4,217.9 1205.6,223.6 1205.9,220.0 1206.1,216.2 1206.4,221.4 1206.6,217.5 1206.9,224.5 1207.1,220.9 1207.4,216.9 1207.6,222.3 1207.9,219.8 1208.1,215.3 1208.4,220.5 1208.6,217.3 1208.9,222.4 1209.1,219.1 1209.4,215.1 1209.7,220.8 1209.9,216.8 1210.2,222.1 1210.4,218.9 1210.7,215.5 1210.9,219.8 1211.2,216.3 1211.4,212.1 1211.7,218.9 1211.9,214.4 1212.2,220.6 1212.4,215.8 1212.7,212.9 1212.9,217.6 1213.2,213.9 1213.4,220.0 1213.7,215.6 1213.9,211.6 1214.2,218.0 1214.4,213.5 1214.7,210.5 1214.9,216.7 1215.2,211.0 1215.4,216.6 1215.7,212.0 1216.0,208.3 1216.2,214.7 1216.5,210.6 1216.7,206.6 1217.0,212.0 1217.2,207.3 1217.5,211.9 1217.7,209.6 1218.0,205.1 1218.2,210.7 1218.5,206.0 1218.7,211.4 1219.0,206.7 1219.2,203.0 1219.5,207.8 1219.7,204.1 1220.0,200.8 1220.2,205.1 1220.5,199.0 1220.7,205.4 1221.0,201.5 1221.2,198.1 1221.5,202.4 1221.8,197.9 1222.0,202.6 1222.3,198.9 1222.5,194.7 1222.8,200.6 1223.0,196.1 1223.3,192.0 1223.5,196.6 1223.8,193.5 1224.0,196.0 1224.3,192.3 1224.5,188.3 1224.8,191.5 1225.0,188.1 1225.3,184.1 1225.5,188.8 1225.8,184.9 1226.0,189.2 1226.3,184.4 1226.5,181.5 1226.8,184.9 1227.0,181.4 1227.3,187.2 1227.6,183.3 1227.8,179.2 1228.1,185.2 1228.3,180.7 1228.6,176.0 1228.8,181.5 1229.1,177.3 1229.3,183.4 1229.6,178.9 1229.8,175.1 1230.1,180.4 1230.3,176.1 1230.6,174.7 1230.8,179.3 1231.1,173.7 1231.3,180.8 1231.6,176.3 1231.8,171.6 1232.1,178.3 1232.3,174.7 1232.6,180.6 1232.8,177.1 1233.1,172.1 1233.4,178.3 1233.6,174.9 1233.9,171.1 1234.1,176.7 1234.4,172.8 1234.6,179.2 1234.9,174.0 1235.1,170.2 1235.4,177.8 1235.6,173.4 1235.9,179.6 1236.1,175.4 1236.4,171.5 1236.6,177.2 1236.9,174.0 1237.1,170.1 1237.4,176.1 1237.6,172.6 1237.9,179.0 1238.1,175.4 1238.4,172.4 1238.6,176.9 1238.9,173.8 1239.2,170.8 1239.4,176.4 1239.7,171.2 1239.9,178.8 1240.2,175.1 1240.4,171.4 1240.7,177.3 1240.9,173.7 1241.2,180.7 1241.4,177.0 1241.7,173.3 1241.9,179.7 1242.2,176.2 1242.4,171.7 1242.7,177.5 1242.9,174.1 1243.2,181.1 1243.4,177.3 1243.7,174.6 1243.9,180.1 1244.2,176.3 1244.4,181.6 1244.7,178.8 1245.0,176.8 1245.2,181.1 1245.5,177.6 1245.7,174.6 1246.0,181.6 1246.2,177.5 1246.5,182.9 1246.7,179.9 1247.0,176.9 1247.2,183.2 1247.5,180.5 1247.7,178.2 1248.0,183.6 1248.2,180.0 1248.5,185.8 1248.7,182.1 1249.0,179.8 1249.2,186.4 1249.5,183.0 1249.7,188.6 1250.0,185.9 1250.2,182.3 1250.5,188.5 1250.7,185.3 1251.0,182.4 1251.3,188.4 1251.5,186.0 1251.8,191.5 1252.0,188.3 1252.3,185.9 1252.5,191.8 1252.8,188.9 1253.0,184.6 1253.3,191.9 1253.5,188.0 1253.8,193.5 1254.0,190.9 1254.3,187.2 1254.5,193.5 1254.8,190.7 1255.0,197.7 1255.3,193.3 1255.5,191.2 1255.8,197.0 1256.0,195.0 1256.3,191.1 1256.5,197.5 1256.8,194.9 1257.1,199.6 1257.3,196.9 1257.6,193.1 1257.8,199.6 1258.1,197.2 1258.3,203.0 1258.6,200.1 1258.8,196.5 1259.1,202.4 1259.3,199.4 1259.6,195.7 1259.8,201.6 1260.1,198.0 1260.3,204.9 1260.6,201.8 1260.8,197.4 1261.1,203.8 1261.3,199.4 1261.6,196.6 1261.8,203.3 1262.1,199.0 1262.3,206.0 1262.6,202.1 1262.9,199.1 1263.1,204.5 1263.4,200.5 1263.6,207.3 1263.9,204.2 1264.1,200.0 1264.4,206.5 1264.6,202.4 1264.9,199.1 1265.1,205.9 1265.4,201.7 1265.6,207.1 1265.9,204.5 1266.1,200.7 1266.4,206.3 1266.6,203.5 1266.9,197.9 1267.1,205.8 1267.4,203.1 1267.6,208.0 1267.9,203.3 1268.1,201.7 1268.4,208.2 1268.7,203.6 1268.9,208.5 1269.2,205.2 1269.4,202.0 1269.7,208.1 1269.9,205.2 1270.2,201.3 1270.4,205.5 1270.7,203.1 1270.9,209.1 1271.2,206.7 1271.4,201.8 1271.7,207.2 1271.9,204.3 1272.2,210.4 1272.4,205.7 1272.7,203.8 1272.9,209.0 1273.2,206.0 1273.4,202.4 1273.7,208.1 1273.9,205.1 1274.2,211.1 1274.5,206.4 1274.7,203.0 1275.0,209.5 1275.2,205.5 1275.5,201.5 1275.7,207.7 1276.0,203.7 1276.2,209.7 1276.5,204.5 1276.7,203.0 1277.0,209.9 1277.2,205.7 1277.5,211.6 1277.7,207.8 1278.0,203.7 1278.2,210.3 1278.5,206.6 1278.7,202.9 1279.0,209.1 1279.2,205.1 1279.5,211.4 1279.7,208.2 1280.0,205.0 1280.2,210.4 1280.5,207.4 1280.8,213.0 1281.0,208.1 1281.3,204.9 1281.5,211.9 1281.8,208.0 1282.0,205.6 1282.3,210.5 1282.5,207.7 1282.8,213.7 1283.0,210.2 1283.3,207.0 1283.5,213.4 1283.8,210.1 1284.0,206.4 1284.3,212.9 1284.5,209.8 1284.8,215.5 1285.0,211.9 1285.3,208.6 1285.5,214.8 1285.8,211.5 1286.0,218.0 1286.3,216.2 1286.6,212.1 1286.8,217.5 1287.1,214.6 1287.3,211.3 1287.6,217.8 1287.8,214.6 1288.1,219.3 1288.3,218.0 1288.6,213.0 1288.8,219.6 1289.1,215.9 1289.3,212.2 1289.6,218.3 1289.8,217.4 1290.1,223.2 1290.3,218.7 1290.6,215.5 1290.8,223.1 1291.1,218.6 1291.3,225.6 1291.6,223.4 1291.8,219.6 1292.1,226.2 1292.4,222.4 1292.6,218.2 1292.9,224.8 1293.1,221.2 1293.4,228.6 1293.6,224.6 1293.9,222.3 1294.1,228.1 1294.4,224.9 1294.6,231.8 1294.9,228.1 1295.1,224.8 1295.4,232.0 1295.6,228.3 1295.9,224.4 1296.1,232.1 1296.4,227.4 1296.6,234.5 1296.9,231.6 1297.1,228.0 1297.4,233.8 1297.6,230.9 1297.9,227.8 1298.2,233.5 1298.4,231.5 1298.7,236.7 1298.9,233.5 1299.2,231.6 1299.4,236.5 1299.7,232.9 1299.9,239.9 1300.2,236.8 1300.4,233.7 1300.7,241.1 1300.9,236.4 1301.2,234.4 1301.4,240.3 1301.7,237.5 1301.9,242.7 1302.2,239.5 1302.4,236.5 1302.7,243.0 1302.9,240.3 1303.2,237.7 1303.4,241.8 1303.7,240.4 1304.0,246.2 1304.2,243.0 1304.5,239.4 1304.7,246.3 1305.0,242.1 1305.2,250.1 1305.5,245.9 1305.7,243.5 1306.0,249.6 1306.2,247.2 1306.5,243.2 1306.7,250.6 1307.0,247.5 1307.2,254.3 1307.5,250.8 1307.7,247.8 1308.0,252.8 1308.2,250.9 1308.5,258.2 1308.7,254.2 1309.0,251.4 1309.2,257.7 1309.5,255.6 1309.7,251.3 1310.0,259.4 1310.3,256.0 1310.5,262.1 1310.8,258.9 1311.0,257.4 1311.3,262.0 1311.5,260.0 1311.8,256.8 1312.0,262.0 1312.3,259.9 1312.5,266.5 1312.8,263.1 1313.0,260.2 1313.3,266.5 1313.5,263.3 1313.8,269.2 1314.0,267.1 1314.3,263.8 1314.5,270.7 1314.8,268.1 1315.0,265.7 1315.3,271.5 1315.5,268.0 1315.8,274.5 1316.1,270.8 1316.3,269.0 1316.6,274.5 1316.8,272.8 1317.1,277.7 1317.3,275.4 1317.6,272.0 1317.8,278.9 1318.1,276.1 1318.3,272.3 1318.6,280.2 1318.8,276.4 1319.1,281.4 1319.3,278.8 1319.6,275.3 1319.8,281.3 1320.1,279.5 1320.3,275.3 1320.6,282.9 1320.8,278.8 1321.1,285.6 1321.3,283.9 1321.6,279.8 1321.9,286.1 1322.1,283.9 1322.4,289.1 1322.6,286.7 1322.9,282.9 1323.1,289.3 1323.4,286.7 1323.6,283.6 1323.9,289.3 1324.1,286.9 1324.4,293.3 1324.6,290.3 1324.9,286.9 1325.1,292.4 1325.4,290.3 1325.6,287.3 1325.9,292.3 1326.1,288.4 1326.4,295.8 1326.6,293.3 1326.9,290.0 1327.1,294.8 1327.4,293.0 1327.7,297.8 1327.9,295.5 1328.2,291.3 1328.4,298.1 1328.7,294.4 1328.9,290.5 1329.2,297.0 1329.4,292.7 1329.7,298.8 1329.9,295.4 1330.2,291.6 1330.4,298.6 1330.7,295.2 1330.9,300.5 1331.2,296.5 1331.4,293.8 1331.7,299.7 1331.9,296.4 1332.2,292.5 1332.4,298.3 1332.7,295.7 1332.9,300.4 1333.2,297.2 1333.5,292.7 1333.7,299.4 1334.0,295.9 1334.2,292.4 1334.5,298.8 1334.7,294.6 1335.0,301.1 1335.2,297.0 1335.5,293.4 1335.7,298.4 1336.0,296.2 1336.2,302.2 1336.5,297.6 1336.7,294.3 1337.0,299.4 1337.2,296.6 1337.5,292.6 1337.7,299.2 1338.0,295.3 1338.2,301.5 1338.5,297.0 1338.7,292.9 1339.0,299.6 1339.3,295.6 1339.5,302.8 1339.8,298.2 1340.0,295.2 1340.3,300.4 1340.5,296.2 1340.8,291.8 1341.0,298.3 1341.3,295.1 1341.5,300.5 1341.8,297.0 1342.0,293.3 1342.3,298.0 1342.5,295.3 1342.8,290.9 1343.0,297.0 1343.3,294.2 1343.5,297.9 1343.8,295.2 1344.0,291.8 1344.3,298.0 1344.5,293.7 1344.8,298.8 1345.0,296.1 1345.3,292.2 1345.6,296.5 1345.8,293.8 1346.1,288.9 1346.3,294.0 1346.6,291.1 1346.8,296.7 1347.1,292.2 1347.3,290.7 1347.6,294.4 1347.8,291.5 1348.1,287.9 1348.3,294.3 1348.6,289.0 1348.8,295.8 1349.1,290.4 1349.3,287.3 1349.6,292.7 1349.8,288.7 1350.1,295.2 1350.3,292.5 1350.6,289.1 1350.8,294.2 1351.1,290.1 1351.4,287.8 1351.6,294.5 1351.9,292.8 1352.1,297.9 1352.4,296.2 1352.6,294.9 1352.9,300.8 1353.1,299.7 1353.4,305.7 1353.6,303.6 1353.9,303.7 1354.1,309.1 1354.4,308.4 1354.6,307.0 1354.9,310.4 1355.1,309.0 1355.4,315.0 1355.6,313.0 1355.9,310.9 1356.1,318.3 1356.4,316.5 1356.6,315.5 1356.9,320.2 1357.2,319.5 1357.4,324.1 1357.7,322.8 1357.9,322.5 1358.2,325.9 1358.4,325.5 1358.7,329.5 1358.9,329.9 1359.2,327.4 1359.4,332.1 1359.7,330.3 1359.9,330.0 1360.2,336.4 1360.4,334.5 1360.7,338.3 1360.9,337.0 1361.2,339.0 1361.4,342.0 1361.7,340.5 1361.9,340.4 1362.2,345.8 1362.4,345.2 1362.7,349.3 1363.0,347.6 1363.2,346.6 1363.5,351.2 1363.7,349.7 1364.0,355.6 1364.2,353.4 1364.5,349.2 1364.7,355.3 1365.0,352.4 1365.2,348.8 1365.5,353.2 1365.7,349.7 1366.0,355.1 1366.2,350.7 1366.5,348.6 1366.7,351.2 1367.0,347.8 1367.2,349.8 1367.5,346.2 1367.7,342.6 1368.0,345.6 1368.2,341.1 1368.5,338.6 1368.8,339.6 1369.0,337.0 1369.3,339.1 1369.5,335.1 1369.8,332.6 1370.0,335.3 1370.3,330.9 1370.5,326.9 1370.8,331.1 1371.0,326.5 1371.3,330.4 1371.5,325.9 1371.8,322.8 1372.0,325.4 1372.3,322.1 1372.5,326.4 1372.8,322.8 1373.0,317.7 1373.3,321.4 1373.5,316.8 1373.8,314.1 1374.0,318.6 1374.3,313.5 1374.5,318.0 1374.8,314.8 1375.1,310.3 1375.3,315.8 1375.6,312.7 1375.8,317.2 1376.1,313.4 1376.3,310.2 1376.6,314.5 1376.8,310.9 1377.1,306.6 1377.3,311.5 1377.6,309.0 1377.8,312.7 1378.1,309.7 1378.3,305.1 1378.6,310.8 1378.8,306.7 1379.1,303.4 1379.3,309.4 1379.6,306.0 1379.8,309.6 1380.1,307.1 1380.3,302.8 1380.6,308.2 1380.9,304.6 1381.1,310.2 1381.4,306.2 1381.6,302.3 1381.9,309.0 1382.1,303.8 1382.4,300.1 1382.6,304.5 1382.9,301.8 1383.1,306.0 1383.4,302.3 1383.6,298.0 1383.9,303.1 1384.1,298.7 1384.4,294.7 1384.6,298.6 1384.9,295.4 1385.1,299.2 1385.4,295.9 1385.6,292.8 1385.9,296.2 1386.1,291.0 1386.4,294.3 1386.7,291.5 1386.9,286.8 1387.2,291.6 1387.4,287.8 1387.7,282.7 1387.9,287.9 1388.2,284.4 1388.4,288.6 1388.7,284.2 1388.9,280.3 1389.2,286.0 1389.4,281.3 1389.7,287.3 1389.9,283.0 1390.2,278.8 1390.4,284.0 1390.7,281.1 1390.9,276.3 1391.2,282.4 1391.4,277.3 1391.7,283.8 1391.9,280.1 1392.2,276.4 1392.5,282.3 1392.7,278.2 1393.0,274.4 1393.2,279.5 1393.5,275.2 1393.7,280.8 1394.0,277.2 1394.2,274.1 1394.5,280.2 1394.7,276.0 1395.0,281.6 1395.2,278.2 1395.5,273.9 1395.7,279.9 1396.0,276.0 1396.2,272.5 1396.5,278.0 1396.7,273.6 1397.0,279.9 1397.2,276.0 1397.5,273.8 1397.7,279.4 1398.0,274.5 1398.3,280.0 1398.5,276.9 1398.8,272.3 1399.0,279.6 1399.3,275.2 1399.5,271.2 1399.8,277.8 1400.0,274.2 1400.3,279.2 1400.5,276.0 1400.8,270.7 1401.0,276.8 1401.3,273.0 1401.5,268.8 1401.8,275.8 1402.0,272.9 1402.3,276.2 1402.5,272.8 1402.8,269.9 1403.0,274.6 1403.3,270.8 1403.5,275.8 1403.8,272.5 1404.1,267.8 1404.3,274.0 1404.6,269.9 1404.8,265.9 1405.1,270.2 1405.3,266.6 1405.6,271.6 1405.8,266.7 1406.1,263.1 1406.3,264.4 1406.6,261.6 1406.8,258.0 1407.1,260.3 1407.3,255.2 1407.6,257.2 1407.8,255.2 1408.1,251.2 1408.3,254.1 1408.6,250.5 1408.8,254.3 1409.1,251.5 1409.3,248.3 1409.6,252.9 1409.8,247.8 1410.1,244.6 1410.4,249.1 1410.6,245.8 1410.9,250.5 1411.1,247.2 1411.4,243.6 1411.6,248.3 1411.9,244.4 1412.1,249.7 1412.4,246.1 1412.6,241.3 1412.9,246.7 1413.1,242.8 1413.4,239.7 1413.6,244.2 1413.9,240.5 1414.1,245.0 1414.4,240.4 1414.6,237.0 1414.9,242.4 1415.1,237.9 1415.4,233.8 1415.6,238.8 1415.9,235.4 1416.2,240.2 1416.4,236.0 1416.7,231.4 1416.9,236.4 1417.2,235.0 1417.4,237.4 1417.7,233.9 1417.9,229.8 1418.2,233.4 1418.4,231.0 1418.7,226.4 1418.9,230.2 1419.2,227.3 1419.4,230.6 1419.7,227.3 1419.9,222.5 1420.2,226.9 1420.4,223.7 1420.7,219.5 1420.9,221.3 1421.2,218.0 1421.4,220.8 1421.7,215.8 1422.0,212.1 1422.2,215.4 1422.5,211.3 1422.7,213.7 1423.0,209.9 1423.2,206.6 1423.5,211.2 1423.7,207.1 1424.0,201.8 1424.2,208.3 1424.5,203.0 1424.7,210.2 1425.0,205.0 1425.2,201.6 1425.5,206.8 1425.7,202.3 1426.0,208.8 1426.2,204.4 1426.5,201.6 1426.7,206.3 1427.0,202.2 1427.2,199.7 1427.5,204.7 1427.8,200.1 1428.0,205.3 1428.3,203.2 1428.5,199.1 1428.8,204.8 1429.0,200.2 1429.3,196.4 1429.5,202.0 1429.8,199.5 1430.0,204.5 1430.3,201.3 1430.5,196.0 1430.8,203.6 1431.0,198.9 1431.3,203.5 1431.5,200.7 1431.8,198.1 1432.0,204.5 1432.3,198.3 1432.5,195.5 1432.8,202.1 1433.0,197.5 1433.3,203.9 1433.6,199.9 1433.8,197.0 1434.1,201.8 1434.3,198.9 1434.6,204.3 1434.8,201.3 1435.1,197.6 1435.3,204.0 1435.6,199.9 1435.8,197.2 1436.1,201.0 1436.3,198.2 1436.6,204.6 1436.8,200.6 1437.1,195.4 1437.3,203.0 1437.6,198.9 1437.8,197.0 1438.1,201.3 1438.3,198.2 1438.6,203.0 1438.8,200.5 1439.1,194.8 1439.3,201.7 1439.6,198.5 1439.9,203.6 1440.1,201.6 1440.4,197.5 1440.6,204.3 1440.9,198.9 1441.1,195.7 1441.4,202.4 1441.6,198.2 1441.9,204.9 1442.1,201.2 1442.4,196.8 1442.6,203.2 1442.9,200.0 1443.1,196.3 1443.4,201.8 1443.6,198.2 1443.9,204.2 1444.1,201.4 1444.4,198.5 1444.6,202.3 1444.9,199.0 1445.1,205.4 1445.4,202.8 1445.7,197.9 1445.9,205.7 1446.2,202.2 1446.4,195.8 1446.7,203.5 1446.9,200.0 1447.2,205.2 1447.4,200.8 1447.7,198.6 1447.9,204.1 1448.2,201.5 1448.4,207.0 1448.7,202.5 1448.9,200.7 1449.2,206.5 1449.4,202.8 1449.7,198.4 1449.9,204.7 1450.2,200.7 1450.4,206.1 1450.7,201.8 1450.9,199.5 1451.2,204.0 1451.5,202.0 1451.7,197.2 1452.0,204.0 1452.2,200.1 1452.5,205.4 1452.7,201.9 1453.0,198.5 1453.2,205.6 1453.5,201.3 1453.7,206.7 1454.0,203.7 1454.2,198.9 1454.5,204.4 1454.7,201.2 1455.0,198.7 1455.2,203.6 1455.5,200.2 1455.7,206.0 1456.0,202.0 1456.2,199.3 1456.5,204.7 1456.7,200.1 1457.0,196.3 1457.3,202.7 1457.5,198.5 1457.8,204.7 1458.0,201.5 1458.3,197.4 1458.5,203.2 1458.8,199.1 1459.0,204.7 1459.3,200.9 1459.5,198.6 1459.8,203.1 1460.0,199.9 1460.3,196.3 1460.5,202.2 1460.8,198.1 1461.0,203.0 1461.3,201.6 1461.5,196.0 1461.8,202.8 1462.0,198.1 1462.3,205.0 1462.5,200.3 1462.8,198.3 1463.1,203.3 1463.3,198.4 1463.6,196.8 1463.8,200.4 1464.1,197.7 1464.3,204.3 1464.6,199.8 1464.8,197.1 1465.1,202.1 1465.3,198.1 1465.6,195.6 1465.8,200.6 1466.1,196.6 1466.3,203.3 1466.6,198.9 1466.8,194.6 1467.1,200.7 1467.3,199.1 1467.6,204.7 1467.8,198.7 1468.1,196.5 1468.3,202.6 1468.6,198.0 1468.8,194.9 1469.1,199.7 1469.4,196.4 1469.6,203.1 1469.9,198.8 1470.1,195.1 1470.4,200.8 1470.6,196.5 1470.9,202.5 1471.1,199.1 1471.4,195.7 1471.6,201.1 1471.9,199.2 1472.1,193.3 1472.4,199.5 1472.6,196.2 1472.9,202.7 1473.1,197.9 1473.4,195.3 1473.6,200.4 1473.9,196.8 1474.1,194.0 1474.4,200.1 1474.6,196.6 1474.9,201.1 1475.2,198.8 1475.4,195.2 1475.7,200.7 1475.9,197.2 1476.2,202.9 1476.4,199.2 1476.7,196.3 1476.9,202.8 1477.2,198.1 1477.4,195.0 1477.7,201.4 1477.9,196.4 1478.2,204.4 1478.4,200.1 1478.7,197.3 1478.9,202.3 1479.2,198.5 1479.4,195.5 1479.7,201.8 1479.9,197.6 1480.2,204.9 1480.4,201.0 1480.7,196.7 1481.0,203.8 1481.2,199.9 1481.5,206.2 1481.7,202.5 1482.0,198.8 1482.2,204.6 1482.5,202.0 1482.7,198.4 1483.0,204.8 1483.2,200.6 1483.5,207.5 1483.7,204.2 1484.0,199.4 1484.2,206.5 1484.5,204.2 1484.7,208.7 1485.0,205.3 1485.2,201.9 1485.5,207.9 1485.7,205.2 1486.0,201.0 1486.2,207.3 1486.5,203.3 1486.8,210.5 1487.0,206.5 1487.3,202.8 1487.5,209.2 1487.8,206.8 1488.0,202.2 1488.3,208.8 1488.5,205.9 1488.8,211.4 1489.0,208.5 1489.3,203.7 1489.5,211.2 1489.8,205.9 1490.0,213.8 1490.3,209.8 1490.5,206.1 1490.8,213.7 1491.0,209.9 1491.3,206.4 1491.5,213.4 1491.8,209.2 1492.0,215.9 1492.3,211.9 1492.6,209.5 1492.8,215.6 1493.1,211.0 1493.3,217.7 1493.6,214.2 1493.8,210.7 1494.1,218.7 1494.3,214.6 1494.6,211.5 1494.8,217.2 1495.1,213.7 1495.3,221.8 1495.6,216.2 1495.8,213.2 1496.1,219.5 1496.3,216.9 1496.6,215.3 1496.8,220.2 1497.1,217.7 1497.3,225.1 1497.6,220.1 1497.8,216.5 1498.1,224.2 1498.4,220.8 1498.6,226.5 1498.9,223.3 1499.1,221.2 1499.4,226.8 1499.6,223.9 1499.9,220.6 1500.1,226.9 1500.4,223.4 1500.6,230.3 1500.9,226.6 1501.1,223.0 1501.4,229.6 1501.6,226.7 1501.9,223.2 1502.1,231.0 1502.4,226.7 1502.6,233.8 1502.9,231.7 1503.1,226.9 1503.4,234.1 1503.6,230.2 1503.9,237.8 1504.1,233.7 1504.4,230.2 1504.7,237.3 1504.9,233.4 1505.2,230.2 1505.4,237.0 1505.7,235.2 1505.9,240.8 1506.2,238.8 1506.4,234.2 1506.7,241.9 1506.9,238.5 1507.2,244.0 1507.4,242.2 1507.7,237.7 1507.9,244.5 1508.2,240.5 1508.4,237.3 1508.7,243.5 1508.9,241.7 1509.2,248.0 1509.4,244.7 1509.7,240.4 1509.9,247.5 1510.2,243.6 1510.5,239.4 1510.7,248.2 1511.0,243.5 1511.2,251.3 1511.5,247.3 1511.7,243.5 1512.0,250.9 1512.2,247.4 1512.5,253.7 1512.7,249.5 1513.0,246.1 1513.2,253.5 1513.5,249.7 1513.7,246.4 1514.0,253.8 1514.2,249.5 1514.5,256.3 1514.7,253.0 1515.0,248.8 1515.2,256.7 1515.5,252.2 1515.7,247.9 1516.0,255.7 1516.3,251.2 1516.5,258.6 1516.8,255.2 1517.0,251.1 1517.3,259.2 1517.5,254.7 1517.8,261.4 1518.0,258.9 1518.3,255.0 1518.5,261.0 1518.8,257.2 1519.0,254.1 1519.3,261.2 1519.5,256.1 1519.8,265.3 1520.0,260.6 1520.3,256.6 1520.5,264.7 1520.8,259.5 1521.0,267.0 1521.3,263.7 1521.5,259.7 1521.8,266.8 1522.1,263.3 1522.3,258.6 1522.6,266.6 1522.8,261.2 1523.1,269.1 1523.3,265.6 1523.6,260.2 1523.8,267.7 1524.1,264.0 1524.3,259.4 1524.6,266.5 1524.8,261.7 1525.1,271.0 1525.3,265.9 1525.6,262.4 1525.8,268.5 1526.1,264.8 1526.3,272.1 1526.6,267.9 1526.8,262.6 1527.1,271.7 1527.3,266.5 1527.6,262.5 1527.9,269.2 1528.1,266.4 1528.4,272.0 1528.6,269.7 1528.9,264.0 1529.1,271.5 1529.4,266.9 1529.6,275.6 1529.9,269.9 1530.1,265.5 1530.4,272.9 1530.6,269.3 1530.9,265.0 1531.1,271.6 1531.4,268.0 1531.6,276.0 1531.9,271.1 1532.1,266.5 1532.4,273.0 1532.6,270.1 1532.9,265.2 1533.1,271.3 1533.4,267.2 1533.6,273.3 1533.9,270.8 1534.2,265.3 1534.4,273.2 1534.7,269.7 1534.9,275.3 1535.2,272.2 1535.4,266.9 1535.7,273.6 1535.9,270.4 1536.2,265.1 1536.4,271.5 1536.7,267.5 1536.9,273.8 1537.2,268.8 1537.4,264.2 1537.7,271.8 1537.9,265.4 1538.2,260.8 1538.4,268.7 1538.7,262.5 1538.9,269.7 1539.2,264.8 1539.4,259.3 1539.7,266.1 1540.0,261.6 1540.2,268.1 1540.5,263.6 1540.7,258.5 1541.0,265.4 1541.2,260.1 1541.5,254.8 1541.7,262.0 1542.0,257.0 1542.2,263.9 1542.5,258.4 1542.7,253.5 1543.0,260.3 1543.2,254.6 1543.5,262.7 1543.7,257.2 1544.0,252.3 1544.2,259.4 1544.5,256.0 1544.7,249.5 1545.0,257.7 1545.2,250.8 1545.5,258.7 1545.8,255.2 1546.0,249.4 1546.3,256.4 1546.5,251.0 1546.8,245.4 1547.0,253.8 1547.3,249.2 1547.5,256.2 1547.8,251.9 1548.0,245.9 1548.3,253.2 1548.5,246.8 1548.8,254.8 1549.0,250.3 1549.3,246.2 1549.5,253.4 1549.8,248.5 1550.0,243.0 1550.3,249.5 1550.5,244.8 1550.8,251.7 1551.0,247.0 1551.3,242.8 1551.6,248.9 1551.8,243.2 1552.1,250.4 1552.3,248.1 1552.6,242.3 1552.8,248.1 1553.1,243.5 1553.3,239.3 1553.6,245.9 1553.8,241.2 1554.1,246.7 1554.3,242.3 1554.6,238.4 1554.8,245.7 1555.1,240.6 1555.3,236.6 1555.6,242.6 1555.8,237.9 1556.1,244.7 1556.3,240.5 1556.6,234.7 1556.8,243.2 1557.1,236.5 1557.4,244.5 1557.6,239.7 1557.9,235.4 1558.1,240.6 1558.4,235.9 1558.6,231.5 1558.9,238.9 1559.1,234.2 1559.4,238.9 1559.6,235.4 1559.9,230.9 1560.1,237.7 1560.4,232.9 1560.6,227.7 1560.9,234.6 1561.1,228.6 1561.4,236.9 1561.6,230.0 1561.9,226.5 1562.1,232.7 1562.4,228.6 1562.6,234.4 1562.9,230.6 1563.1,225.5 1563.4,232.2 1563.7,227.6 1563.9,222.8 1564.2,228.5 1564.4,224.2 1564.7,230.5 1564.9,225.9 1565.2,220.6 1565.4,225.5 1565.7,222.0 1565.9,228.6 1566.2,223.4 1566.4,218.5 1566.7,225.4 1566.9,220.1 1567.2,216.0 1567.4,222.8 1567.7,217.2 1567.9,224.1 1568.2,218.1 1568.4,213.3 1568.7,220.1 1568.9,214.9 1569.2,210.6 1569.5,217.0 1569.7,213.1 1570.0,218.2 1570.2,214.4 1570.5,208.2 1570.7,215.0 1571.0,210.8 1571.2,216.8 1571.5,210.3 1571.7,206.9 1572.0,213.5 1572.2,207.4 1572.5,203.2 1572.7,209.6 1573.0,205.1 1573.2,211.9 1573.5,205.5 1573.7,200.9 1574.0,208.5 1574.2,203.5 1574.5,199.0 1574.7,204.1 1575.0,199.9 1575.3,203.9 1575.5,200.8 1575.8,195.2 1576.0,200.9 1576.3,196.3 1576.5,203.5 1576.8,199.0 1577.0,193.1 1577.3,199.0 1577.5,195.1 1577.8,189.3 1578.0,195.6 1578.3,191.1 1578.5,197.1 1578.8,191.5 1579.0,185.3 1579.3,192.4 1579.5,188.3 1579.8,193.1 1580.0,188.4 1580.3,183.5 1580.5,189.9 1580.8,185.0 1581.1,180.4 1581.3,185.9 1581.6,181.9 1581.8,187.0 1582.1,182.1 1582.3,176.7 1582.6,182.8 1582.8,178.3 1583.1,174.5 1583.3,179.6 1583.6,174.4 1583.8,180.7 1584.1,175.9 1584.3,170.6 1584.6,176.7 1584.8,171.1 1585.1,177.4 1585.3,173.8 1585.6,168.5 1585.8,173.9 1586.1,169.3 1586.3,164.6 1586.6,168.9 1586.9,164.7 1587.1,169.9 1587.4,165.9 1587.6,161.7 1587.9,167.3 1588.1,161.5 1588.4,165.7 1588.6,162.1 1588.9,157.4 1589.1,162.3 1589.4,157.7 1589.6,153.6 1589.9,157.6 1590.1,153.7 1590.4,158.9 1590.6,154.0 1590.9,149.7 1591.1,154.1 1591.4,150.4 1591.6,145.1 1591.9,150.3 1592.1,145.9 1592.4,151.7 1592.7,147.1 1592.9,142.0 1593.2,149.5 1593.4,144.2 1593.7,150.2 1593.9,145.4 1594.2,140.2 1594.4,147.0 1594.7,141.6 1594.9,136.8 1595.2,142.9 1595.4,139.2 1595.7,145.7 1595.9,140.8 1596.2,135.9 1596.4,140.6 1596.7,137.2 1596.9,132.9 1597.2,139.4 1597.4,133.3 1597.7,141.3 1597.9,136.7 1598.2,131.2 1598.4,137.9 1598.7,133.4 1599.0,139.1 1599.2,136.2 1599.5,130.8 1599.7,138.2 1600.0,133.5 1600.2,128.9 1600.5,136.9 1600.7,130.8 1601.0,138.3 1601.2,132.4 1601.5,128.6 1601.7,135.0 1602.0,131.9 1602.2,138.5 1602.5,133.5 1602.7,129.7 1603.0,135.7 1603.2,131.5 1603.5,126.4 1603.7,133.5 1604.0,129.2 1604.2,136.1 1604.5,131.7 1604.8,126.4 1605.0,133.3 1605.3,130.3 1605.5,125.0 1605.8,131.7 1606.0,127.3 1606.3,133.7 1606.5,129.8 1606.8,124.1 1607.0,132.3 1607.3,127.6 1607.5,134.4 1607.8,130.2 1608.0,125.0 1608.3,133.2 1608.5,127.9 1608.8,121.9 1609.0,129.3 1609.3,126.2 1609.5,132.0 1609.8,127.9 1610.0,122.7 1610.3,131.0"/>
<rect x="1603.5" y="85.5" width="108" height="35" rx="1" fill="#fff" stroke="#262626" stroke-width="1"/>
<circle cx="1627.2" cy="94.7" r="3.9" fill="none" stroke="#0000ff" stroke-width="1.15"/>
<path transform="translate(1621.3 105.6)" d="M1.7 6H10.3M6 1.7V10.3M2.9 2.9L9.1 9.1M9.1 2.9L2.9 9.1" fill="none" stroke="#ff0000" stroke-width="1.15"/>
<text class="lg" x="1650.3" y="99.7">Coil Temp</text>
<text class="lg" x="1650.3" y="116">Coil Resist</text>
</svg></body></html>
